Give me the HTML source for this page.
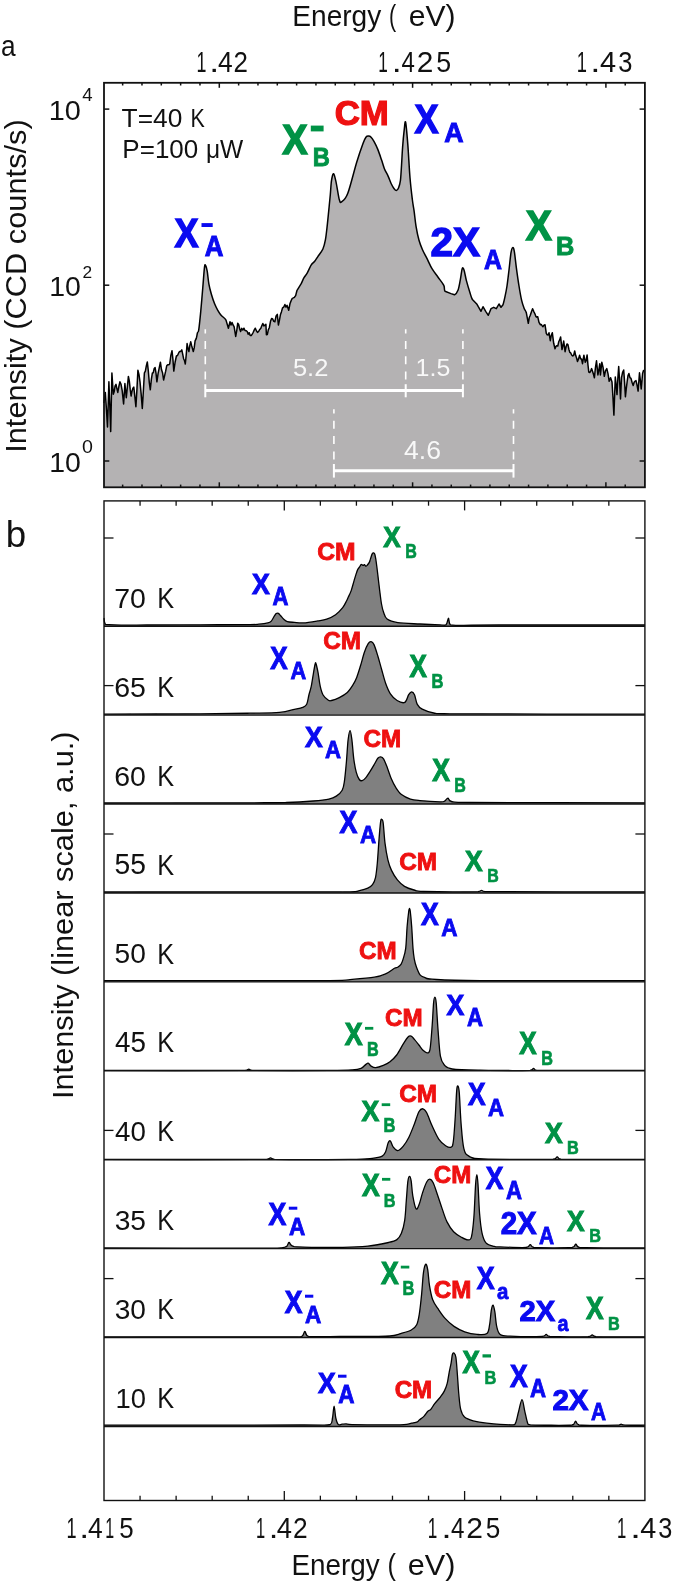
<!DOCTYPE html>
<html><head><meta charset="utf-8"><title>PL spectra</title>
<style>
html,body{margin:0;padding:0;background:#fff;}
body{width:675px;height:1582px;overflow:hidden;}
svg{display:block;}
svg{will-change:transform;}
text{font-family:"Liberation Sans",sans-serif;font-kerning:none;white-space:pre;}
</style></head><body>
<svg width="675" height="1582" viewBox="0 0 675 1582">
<rect width="675" height="1582" fill="#ffffff"/>
<path d="M103.90,403.00 L105.30,392.40 L106.40,408.92 L107.50,427.00 L108.90,381.80 L109.80,405.16 L110.70,431.60 L111.90,372.90 L113.30,394.20 L114.20,391.60 L115.10,385.79 L116.00,384.40 L116.90,388.56 L117.80,392.40 L118.85,386.51 L119.90,381.80 L121.05,384.31 L122.20,390.70 L123.60,404.00 L124.90,383.60 L126.30,397.80 L127.35,387.13 L128.40,376.40 L129.30,380.90 L130.20,389.17 L131.10,396.00 L132.00,391.14 L132.90,388.27 L133.80,387.10 L134.85,396.57 L135.90,406.70 L136.90,389.89 L137.90,370.20 L138.95,374.34 L140.00,381.80 L141.15,393.88 L142.30,408.40 L143.35,391.21 L144.40,372.90 L145.37,371.20 L146.33,365.91 L147.30,361.90 L148.30,370.75 L149.30,382.60 L150.30,389.80 L151.35,379.35 L152.40,372.90 L153.30,372.71 L154.20,368.44 L155.10,367.60 L156.00,373.13 L156.90,381.80 L158.07,373.58 L159.23,367.89 L160.40,362.20 L161.47,369.52 L162.53,372.66 L163.60,380.00 L164.63,375.63 L165.67,371.14 L166.70,365.80 L167.70,364.64 L168.70,364.81 L169.70,364.00 L170.85,355.43 L172.00,350.70 L172.90,358.96 L173.80,371.10 L175.10,362.26 L176.40,356.00 L177.48,355.55 L178.56,353.20 L179.64,351.46 L180.72,351.42 L181.80,349.80 L182.70,354.04 L183.60,358.70 L184.45,360.47 L185.30,364.00 L186.20,355.10 L187.10,343.60 L188.00,348.48 L188.90,351.60 L189.80,345.57 L190.70,341.80 L191.57,345.39 L192.43,348.44 L193.30,351.60 L194.20,347.90 L195.10,340.90 L196.30,338.34 C196.70,337.00 197.10,334.19 197.50,332.83 C197.90,331.48 198.17,333.69 198.70,330.20 C199.23,326.71 200.02,319.02 200.70,311.90 C201.38,304.78 202.17,294.97 202.80,287.50 C203.43,280.03 204.03,270.77 204.50,267.10 C204.97,263.43 205.15,264.82 205.60,265.50 C206.05,266.18 206.65,268.08 207.20,271.20 C207.75,274.32 208.22,280.40 208.90,284.20 C209.58,288.00 210.35,290.73 211.30,294.00 C212.25,297.27 213.52,301.08 214.60,303.80 C215.68,306.52 216.72,308.40 217.80,310.30 C218.88,312.20 219.73,313.57 221.10,315.20 C222.47,316.83 224.78,317.93 226.00,320.10 L228.40,328.20 L230.00,321.70 L231.03,325.04 L232.05,322.47 L233.07,325.01 L234.10,326.60 L235.70,336.40 L236.70,330.98 L237.70,323.30 L238.67,324.50 L239.63,328.72 L240.60,331.50 L241.70,328.37 L242.80,330.04 L243.90,328.20 L245.00,330.46 L246.10,330.72 L247.20,331.50 L248.20,334.18 L249.20,332.73 L250.20,335.43 L251.20,335.60 L252.22,334.17 L253.25,332.25 L254.28,329.86 L255.30,328.20 L256.40,330.80 L257.50,332.36 L258.60,331.50 L259.67,329.49 L260.73,328.42 L261.80,325.80 L262.82,323.47 L263.85,325.89 L264.88,325.25 L265.90,324.20 L266.40,334.70 L267.35,334.47 L268.30,329.90 L269.40,327.48 L270.50,321.29 L271.60,318.40 L272.70,319.00 L273.80,321.34 L274.90,321.70 L276.10,315.95 L277.30,314.40 L278.40,325.00 L279.40,320.46 L280.40,314.81 L281.40,311.90 L282.60,307.77 L283.80,307.00 L284.90,304.53 L286.00,307.11 L287.10,305.40 L288.70,310.30 L289.95,303.77 L291.20,300.50 L292.27,298.32 L293.33,297.89 L294.40,297.30 L295.65,295.63 L296.90,290.70 L300.90,284.20 C302.08,282.03 302.93,279.60 304.00,277.70 C305.07,275.80 306.07,274.98 307.30,272.80 C308.53,270.62 310.17,266.52 311.40,264.60 C312.63,262.68 313.60,262.68 314.70,261.30 C315.80,259.92 316.63,258.35 318.00,256.30 C319.37,254.25 321.67,251.73 322.90,249.00 C324.13,246.27 324.72,243.47 325.40,239.90 C326.08,236.33 326.45,232.40 327.00,227.60 C327.55,222.80 328.15,216.58 328.70,211.10 C329.25,205.62 329.83,199.77 330.30,194.70 C330.77,189.63 330.95,184.20 331.50,180.70 C332.05,177.20 332.83,173.43 333.60,173.70 C334.37,173.97 335.15,177.98 336.10,182.30 C337.05,186.62 338.38,196.35 339.30,199.60 C340.22,202.85 340.18,202.85 341.60,201.80 C343.02,200.75 345.28,199.90 347.80,193.30 C350.32,186.70 354.17,170.50 356.70,162.20 C359.23,153.90 361.47,147.67 363.00,143.50 C364.53,139.33 364.98,138.43 365.90,137.20 C366.82,135.97 367.63,136.10 368.50,136.10 C369.37,136.10 370.17,136.27 371.10,137.20 C372.03,138.13 372.98,139.67 374.10,141.70 C375.22,143.73 376.57,146.38 377.80,149.40 C379.03,152.42 380.40,156.58 381.50,159.80 C382.60,163.02 383.30,165.98 384.40,168.70 C385.50,171.42 386.98,173.63 388.10,176.10 C389.22,178.57 390.10,181.40 391.10,183.50 C392.10,185.60 393.23,187.52 394.10,188.70 C394.97,189.88 395.57,190.72 396.30,190.60 C397.03,190.48 397.82,189.67 398.50,188.00 C399.18,186.33 399.90,184.32 400.40,180.60 C400.90,176.88 401.13,171.27 401.50,165.70 C401.87,160.13 402.17,153.00 402.60,147.20 C403.03,141.40 403.60,135.07 404.10,130.90 C404.60,126.73 404.98,119.95 405.60,122.20 C406.22,124.45 407.07,135.13 407.80,144.40 C408.53,153.67 409.23,168.53 410.00,177.80 C410.77,187.07 411.70,194.33 412.40,200.00 C413.10,205.67 413.60,207.45 414.20,211.80 C414.80,216.15 415.20,221.35 416.00,226.10 C416.80,230.85 417.92,236.35 419.00,240.30 C420.08,244.25 421.12,246.65 422.50,249.80 C423.88,252.95 425.72,256.05 427.30,259.20 C428.88,262.35 430.23,265.73 432.00,268.70 C433.77,271.67 435.93,274.23 437.90,277.00 C439.87,279.77 442.62,282.93 443.80,285.30 C444.98,287.67 443.80,289.82 445.00,291.20 L451.00,293.60 L454.50,294.80 C455.68,294.20 457.12,292.57 458.10,290.00 C459.08,287.43 459.72,282.95 460.40,279.40 C461.08,275.85 461.60,270.28 462.20,268.70 C462.80,267.12 463.30,267.92 464.00,269.90 C464.70,271.88 465.42,276.85 466.40,280.60 C467.38,284.35 468.90,289.25 469.90,292.40 C470.90,295.55 471.22,297.52 472.40,299.50 L477.00,304.30 L478.30,306.70 L481.00,311.30 L483.00,306.70 L485.70,311.30 L488.30,315.30 L491.00,308.70 L493.70,307.30 L496.30,308.70 L499.00,304.00 L501.00,307.30 L503.00,304.70 C503.67,302.93 504.33,299.82 505.00,296.70 C505.67,293.58 506.33,290.45 507.00,286.00 C507.67,281.55 508.33,275.55 509.00,270.00 C509.67,264.45 510.38,256.43 511.00,252.70 C511.62,248.97 512.15,247.83 512.70,247.60 C513.25,247.37 513.70,248.02 514.30,251.30 C514.90,254.58 515.52,261.52 516.30,267.30 C517.08,273.08 518.10,280.43 519.00,286.00 C519.90,291.57 520.82,296.92 521.70,300.70 C522.58,304.48 523.53,306.70 524.30,308.70 C525.07,310.70 525.63,310.27 526.30,312.70 L528.30,323.30 L529.30,317.45 L530.30,315.30 L531.45,311.78 L532.60,308.70 L533.80,311.57 L535.00,314.00 L535.90,316.59 L536.80,317.20 L537.70,316.70 L539.00,322.30 L540.30,324.70 L541.20,324.39 L542.10,325.66 L543.00,326.70 L544.00,325.08 L545.00,324.70 L546.30,333.30 L547.20,334.79 L548.10,334.91 L549.00,332.70 L550.30,340.70 L551.30,335.16 L552.30,332.70 L553.70,343.30 L555.00,348.70 L555.93,346.38 L556.87,345.72 L557.80,346.00 L558.73,341.79 L559.67,339.87 L560.60,336.90 L562.00,349.60 L562.85,345.74 L563.70,341.10 L565.10,351.70 L566.05,346.76 L567.00,343.90 L567.93,344.55 L568.87,349.21 L569.80,352.40 L570.73,352.99 L571.67,355.03 L572.60,355.90 L573.65,355.44 L574.70,351.00 L575.63,355.34 L576.57,358.07 L577.50,361.50 L578.55,358.87 L579.60,355.20 L580.57,358.81 L581.53,358.90 L582.50,363.70 L583.90,355.20 L585.30,362.30 L586.20,360.36 L587.10,354.90 L587.95,364.73 L588.80,372.10 L589.73,372.58 L590.67,371.08 L591.60,368.60 L592.53,371.16 L593.47,374.22 L594.40,377.70 L595.45,367.51 L596.50,360.80 L597.90,374.90 L598.85,369.89 L599.80,363.70 L600.40,374.90 L601.80,362.30 L603.05,367.37 L604.30,376.30 L605.55,370.55 L606.80,368.60 L608.00,373.67 L609.20,381.30 L610.60,377.70 L612.00,382.00 L612.95,397.06 L613.90,415.10 L615.30,377.00 L616.15,385.10 L617.00,394.60 L617.85,378.58 L618.70,366.50 L619.60,380.50 L620.50,398.90 L621.50,377.70 L622.60,372.32 L623.70,370.00 L624.55,381.65 L625.40,396.80 L626.25,388.80 L627.10,382.00 L628.00,375.66 L628.90,373.50 L629.95,377.60 L631.00,378.40 L632.10,382.45 L633.20,385.50 L634.13,382.32 L635.07,381.14 L636.00,380.60 L637.05,385.18 L638.10,391.10 L639.50,372.80 L640.35,380.30 L641.20,389.00 L642.60,373.50 L643.50,370.44 L644.40,370.70 L644.90,370.70 L644.90,487.30 L104.00,487.30 Z" fill="#b4b2b3"/>
<path d="M103.90,403.00 L105.30,392.40 L106.40,408.92 L107.50,427.00 L108.90,381.80 L109.80,405.16 L110.70,431.60 L111.90,372.90 L113.30,394.20 L114.20,391.60 L115.10,385.79 L116.00,384.40 L116.90,388.56 L117.80,392.40 L118.85,386.51 L119.90,381.80 L121.05,384.31 L122.20,390.70 L123.60,404.00 L124.90,383.60 L126.30,397.80 L127.35,387.13 L128.40,376.40 L129.30,380.90 L130.20,389.17 L131.10,396.00 L132.00,391.14 L132.90,388.27 L133.80,387.10 L134.85,396.57 L135.90,406.70 L136.90,389.89 L137.90,370.20 L138.95,374.34 L140.00,381.80 L141.15,393.88 L142.30,408.40 L143.35,391.21 L144.40,372.90 L145.37,371.20 L146.33,365.91 L147.30,361.90 L148.30,370.75 L149.30,382.60 L150.30,389.80 L151.35,379.35 L152.40,372.90 L153.30,372.71 L154.20,368.44 L155.10,367.60 L156.00,373.13 L156.90,381.80 L158.07,373.58 L159.23,367.89 L160.40,362.20 L161.47,369.52 L162.53,372.66 L163.60,380.00 L164.63,375.63 L165.67,371.14 L166.70,365.80 L167.70,364.64 L168.70,364.81 L169.70,364.00 L170.85,355.43 L172.00,350.70 L172.90,358.96 L173.80,371.10 L175.10,362.26 L176.40,356.00 L177.48,355.55 L178.56,353.20 L179.64,351.46 L180.72,351.42 L181.80,349.80 L182.70,354.04 L183.60,358.70 L184.45,360.47 L185.30,364.00 L186.20,355.10 L187.10,343.60 L188.00,348.48 L188.90,351.60 L189.80,345.57 L190.70,341.80 L191.57,345.39 L192.43,348.44 L193.30,351.60 L194.20,347.90 L195.10,340.90 L196.30,338.34 C196.70,337.00 197.10,334.19 197.50,332.83 C197.90,331.48 198.17,333.69 198.70,330.20 C199.23,326.71 200.02,319.02 200.70,311.90 C201.38,304.78 202.17,294.97 202.80,287.50 C203.43,280.03 204.03,270.77 204.50,267.10 C204.97,263.43 205.15,264.82 205.60,265.50 C206.05,266.18 206.65,268.08 207.20,271.20 C207.75,274.32 208.22,280.40 208.90,284.20 C209.58,288.00 210.35,290.73 211.30,294.00 C212.25,297.27 213.52,301.08 214.60,303.80 C215.68,306.52 216.72,308.40 217.80,310.30 C218.88,312.20 219.73,313.57 221.10,315.20 C222.47,316.83 224.78,317.93 226.00,320.10 L228.40,328.20 L230.00,321.70 L231.03,325.04 L232.05,322.47 L233.07,325.01 L234.10,326.60 L235.70,336.40 L236.70,330.98 L237.70,323.30 L238.67,324.50 L239.63,328.72 L240.60,331.50 L241.70,328.37 L242.80,330.04 L243.90,328.20 L245.00,330.46 L246.10,330.72 L247.20,331.50 L248.20,334.18 L249.20,332.73 L250.20,335.43 L251.20,335.60 L252.22,334.17 L253.25,332.25 L254.28,329.86 L255.30,328.20 L256.40,330.80 L257.50,332.36 L258.60,331.50 L259.67,329.49 L260.73,328.42 L261.80,325.80 L262.82,323.47 L263.85,325.89 L264.88,325.25 L265.90,324.20 L266.40,334.70 L267.35,334.47 L268.30,329.90 L269.40,327.48 L270.50,321.29 L271.60,318.40 L272.70,319.00 L273.80,321.34 L274.90,321.70 L276.10,315.95 L277.30,314.40 L278.40,325.00 L279.40,320.46 L280.40,314.81 L281.40,311.90 L282.60,307.77 L283.80,307.00 L284.90,304.53 L286.00,307.11 L287.10,305.40 L288.70,310.30 L289.95,303.77 L291.20,300.50 L292.27,298.32 L293.33,297.89 L294.40,297.30 L295.65,295.63 L296.90,290.70 L300.90,284.20 C302.08,282.03 302.93,279.60 304.00,277.70 C305.07,275.80 306.07,274.98 307.30,272.80 C308.53,270.62 310.17,266.52 311.40,264.60 C312.63,262.68 313.60,262.68 314.70,261.30 C315.80,259.92 316.63,258.35 318.00,256.30 C319.37,254.25 321.67,251.73 322.90,249.00 C324.13,246.27 324.72,243.47 325.40,239.90 C326.08,236.33 326.45,232.40 327.00,227.60 C327.55,222.80 328.15,216.58 328.70,211.10 C329.25,205.62 329.83,199.77 330.30,194.70 C330.77,189.63 330.95,184.20 331.50,180.70 C332.05,177.20 332.83,173.43 333.60,173.70 C334.37,173.97 335.15,177.98 336.10,182.30 C337.05,186.62 338.38,196.35 339.30,199.60 C340.22,202.85 340.18,202.85 341.60,201.80 C343.02,200.75 345.28,199.90 347.80,193.30 C350.32,186.70 354.17,170.50 356.70,162.20 C359.23,153.90 361.47,147.67 363.00,143.50 C364.53,139.33 364.98,138.43 365.90,137.20 C366.82,135.97 367.63,136.10 368.50,136.10 C369.37,136.10 370.17,136.27 371.10,137.20 C372.03,138.13 372.98,139.67 374.10,141.70 C375.22,143.73 376.57,146.38 377.80,149.40 C379.03,152.42 380.40,156.58 381.50,159.80 C382.60,163.02 383.30,165.98 384.40,168.70 C385.50,171.42 386.98,173.63 388.10,176.10 C389.22,178.57 390.10,181.40 391.10,183.50 C392.10,185.60 393.23,187.52 394.10,188.70 C394.97,189.88 395.57,190.72 396.30,190.60 C397.03,190.48 397.82,189.67 398.50,188.00 C399.18,186.33 399.90,184.32 400.40,180.60 C400.90,176.88 401.13,171.27 401.50,165.70 C401.87,160.13 402.17,153.00 402.60,147.20 C403.03,141.40 403.60,135.07 404.10,130.90 C404.60,126.73 404.98,119.95 405.60,122.20 C406.22,124.45 407.07,135.13 407.80,144.40 C408.53,153.67 409.23,168.53 410.00,177.80 C410.77,187.07 411.70,194.33 412.40,200.00 C413.10,205.67 413.60,207.45 414.20,211.80 C414.80,216.15 415.20,221.35 416.00,226.10 C416.80,230.85 417.92,236.35 419.00,240.30 C420.08,244.25 421.12,246.65 422.50,249.80 C423.88,252.95 425.72,256.05 427.30,259.20 C428.88,262.35 430.23,265.73 432.00,268.70 C433.77,271.67 435.93,274.23 437.90,277.00 C439.87,279.77 442.62,282.93 443.80,285.30 C444.98,287.67 443.80,289.82 445.00,291.20 L451.00,293.60 L454.50,294.80 C455.68,294.20 457.12,292.57 458.10,290.00 C459.08,287.43 459.72,282.95 460.40,279.40 C461.08,275.85 461.60,270.28 462.20,268.70 C462.80,267.12 463.30,267.92 464.00,269.90 C464.70,271.88 465.42,276.85 466.40,280.60 C467.38,284.35 468.90,289.25 469.90,292.40 C470.90,295.55 471.22,297.52 472.40,299.50 L477.00,304.30 L478.30,306.70 L481.00,311.30 L483.00,306.70 L485.70,311.30 L488.30,315.30 L491.00,308.70 L493.70,307.30 L496.30,308.70 L499.00,304.00 L501.00,307.30 L503.00,304.70 C503.67,302.93 504.33,299.82 505.00,296.70 C505.67,293.58 506.33,290.45 507.00,286.00 C507.67,281.55 508.33,275.55 509.00,270.00 C509.67,264.45 510.38,256.43 511.00,252.70 C511.62,248.97 512.15,247.83 512.70,247.60 C513.25,247.37 513.70,248.02 514.30,251.30 C514.90,254.58 515.52,261.52 516.30,267.30 C517.08,273.08 518.10,280.43 519.00,286.00 C519.90,291.57 520.82,296.92 521.70,300.70 C522.58,304.48 523.53,306.70 524.30,308.70 C525.07,310.70 525.63,310.27 526.30,312.70 L528.30,323.30 L529.30,317.45 L530.30,315.30 L531.45,311.78 L532.60,308.70 L533.80,311.57 L535.00,314.00 L535.90,316.59 L536.80,317.20 L537.70,316.70 L539.00,322.30 L540.30,324.70 L541.20,324.39 L542.10,325.66 L543.00,326.70 L544.00,325.08 L545.00,324.70 L546.30,333.30 L547.20,334.79 L548.10,334.91 L549.00,332.70 L550.30,340.70 L551.30,335.16 L552.30,332.70 L553.70,343.30 L555.00,348.70 L555.93,346.38 L556.87,345.72 L557.80,346.00 L558.73,341.79 L559.67,339.87 L560.60,336.90 L562.00,349.60 L562.85,345.74 L563.70,341.10 L565.10,351.70 L566.05,346.76 L567.00,343.90 L567.93,344.55 L568.87,349.21 L569.80,352.40 L570.73,352.99 L571.67,355.03 L572.60,355.90 L573.65,355.44 L574.70,351.00 L575.63,355.34 L576.57,358.07 L577.50,361.50 L578.55,358.87 L579.60,355.20 L580.57,358.81 L581.53,358.90 L582.50,363.70 L583.90,355.20 L585.30,362.30 L586.20,360.36 L587.10,354.90 L587.95,364.73 L588.80,372.10 L589.73,372.58 L590.67,371.08 L591.60,368.60 L592.53,371.16 L593.47,374.22 L594.40,377.70 L595.45,367.51 L596.50,360.80 L597.90,374.90 L598.85,369.89 L599.80,363.70 L600.40,374.90 L601.80,362.30 L603.05,367.37 L604.30,376.30 L605.55,370.55 L606.80,368.60 L608.00,373.67 L609.20,381.30 L610.60,377.70 L612.00,382.00 L612.95,397.06 L613.90,415.10 L615.30,377.00 L616.15,385.10 L617.00,394.60 L617.85,378.58 L618.70,366.50 L619.60,380.50 L620.50,398.90 L621.50,377.70 L622.60,372.32 L623.70,370.00 L624.55,381.65 L625.40,396.80 L626.25,388.80 L627.10,382.00 L628.00,375.66 L628.90,373.50 L629.95,377.60 L631.00,378.40 L632.10,382.45 L633.20,385.50 L634.13,382.32 L635.07,381.14 L636.00,380.60 L637.05,385.18 L638.10,391.10 L639.50,372.80 L640.35,380.30 L641.20,389.00 L642.60,373.50 L643.50,370.44 L644.40,370.70" fill="none" stroke="#000" stroke-width="1.5" stroke-linejoin="round"/>
<line x1="205.30" y1="329.30" x2="205.30" y2="380.00" stroke="#ffffff" stroke-width="1.6" stroke-dasharray="8 7.3" stroke-dashoffset="3.7"/>
<line x1="205.30" y1="384.20" x2="205.30" y2="397.30" stroke="#ffffff" stroke-width="2.0"/>
<line x1="405.70" y1="329.30" x2="405.70" y2="380.00" stroke="#ffffff" stroke-width="1.6" stroke-dasharray="8 7.3" stroke-dashoffset="3.7"/>
<line x1="405.70" y1="384.20" x2="405.70" y2="397.30" stroke="#ffffff" stroke-width="2.0"/>
<line x1="462.90" y1="329.30" x2="462.90" y2="380.00" stroke="#ffffff" stroke-width="1.6" stroke-dasharray="8 7.3" stroke-dashoffset="3.7"/>
<line x1="462.90" y1="384.20" x2="462.90" y2="397.30" stroke="#ffffff" stroke-width="2.0"/>
<line x1="205.30" y1="390.60" x2="462.90" y2="390.60" stroke="#ffffff" stroke-width="3.0"/>
<line x1="333.90" y1="409.20" x2="333.90" y2="460.00" stroke="#ffffff" stroke-width="1.6" stroke-dasharray="8 7.3" stroke-dashoffset="3.7"/>
<line x1="333.90" y1="464.00" x2="333.90" y2="477.60" stroke="#ffffff" stroke-width="2.0"/>
<line x1="513.50" y1="409.20" x2="513.50" y2="460.00" stroke="#ffffff" stroke-width="1.6" stroke-dasharray="8 7.3" stroke-dashoffset="3.7"/>
<line x1="513.50" y1="464.00" x2="513.50" y2="477.60" stroke="#ffffff" stroke-width="2.0"/>
<line x1="333.90" y1="470.70" x2="513.50" y2="470.70" stroke="#ffffff" stroke-width="3.0"/>
<text transform="translate(292.88,375.96) scale(1.0453,1)" font-size="24.43" fill="#f8f8f8" font-weight="normal">5.2</text>
<text transform="translate(415.60,376.06) scale(1.0083,1)" font-size="24.79" fill="#f8f8f8" font-weight="normal">1.5</text>
<text transform="translate(403.99,458.76) scale(1.0641,1)" font-size="25.00" fill="#f8f8f8" font-weight="normal">4.6</text>
<rect x="104.0" y="82.8" width="540.90" height="404.50" fill="none" stroke="#111" stroke-width="1.8"/>
<line x1="122.65" y1="82.80" x2="122.65" y2="85.50" stroke="#111" stroke-width="1.5"/>
<line x1="122.65" y1="487.30" x2="122.65" y2="484.60" stroke="#111" stroke-width="1.5"/>
<line x1="141.98" y1="82.80" x2="141.98" y2="85.50" stroke="#111" stroke-width="1.5"/>
<line x1="141.98" y1="487.30" x2="141.98" y2="484.60" stroke="#111" stroke-width="1.5"/>
<line x1="161.31" y1="82.80" x2="161.31" y2="85.50" stroke="#111" stroke-width="1.5"/>
<line x1="161.31" y1="487.30" x2="161.31" y2="484.60" stroke="#111" stroke-width="1.5"/>
<line x1="180.64" y1="82.80" x2="180.64" y2="85.50" stroke="#111" stroke-width="1.5"/>
<line x1="180.64" y1="487.30" x2="180.64" y2="484.60" stroke="#111" stroke-width="1.5"/>
<line x1="199.97" y1="82.80" x2="199.97" y2="85.50" stroke="#111" stroke-width="1.5"/>
<line x1="199.97" y1="487.30" x2="199.97" y2="484.60" stroke="#111" stroke-width="1.5"/>
<line x1="219.30" y1="82.80" x2="219.30" y2="87.80" stroke="#111" stroke-width="1.5"/>
<line x1="219.30" y1="487.30" x2="219.30" y2="482.30" stroke="#111" stroke-width="1.5"/>
<line x1="238.63" y1="82.80" x2="238.63" y2="85.50" stroke="#111" stroke-width="1.5"/>
<line x1="238.63" y1="487.30" x2="238.63" y2="484.60" stroke="#111" stroke-width="1.5"/>
<line x1="257.96" y1="82.80" x2="257.96" y2="85.50" stroke="#111" stroke-width="1.5"/>
<line x1="257.96" y1="487.30" x2="257.96" y2="484.60" stroke="#111" stroke-width="1.5"/>
<line x1="277.29" y1="82.80" x2="277.29" y2="85.50" stroke="#111" stroke-width="1.5"/>
<line x1="277.29" y1="487.30" x2="277.29" y2="484.60" stroke="#111" stroke-width="1.5"/>
<line x1="296.62" y1="82.80" x2="296.62" y2="85.50" stroke="#111" stroke-width="1.5"/>
<line x1="296.62" y1="487.30" x2="296.62" y2="484.60" stroke="#111" stroke-width="1.5"/>
<line x1="315.95" y1="82.80" x2="315.95" y2="85.50" stroke="#111" stroke-width="1.5"/>
<line x1="315.95" y1="487.30" x2="315.95" y2="484.60" stroke="#111" stroke-width="1.5"/>
<line x1="335.28" y1="82.80" x2="335.28" y2="85.50" stroke="#111" stroke-width="1.5"/>
<line x1="335.28" y1="487.30" x2="335.28" y2="484.60" stroke="#111" stroke-width="1.5"/>
<line x1="354.61" y1="82.80" x2="354.61" y2="85.50" stroke="#111" stroke-width="1.5"/>
<line x1="354.61" y1="487.30" x2="354.61" y2="484.60" stroke="#111" stroke-width="1.5"/>
<line x1="373.94" y1="82.80" x2="373.94" y2="85.50" stroke="#111" stroke-width="1.5"/>
<line x1="373.94" y1="487.30" x2="373.94" y2="484.60" stroke="#111" stroke-width="1.5"/>
<line x1="393.27" y1="82.80" x2="393.27" y2="85.50" stroke="#111" stroke-width="1.5"/>
<line x1="393.27" y1="487.30" x2="393.27" y2="484.60" stroke="#111" stroke-width="1.5"/>
<line x1="412.60" y1="82.80" x2="412.60" y2="87.80" stroke="#111" stroke-width="1.5"/>
<line x1="412.60" y1="487.30" x2="412.60" y2="482.30" stroke="#111" stroke-width="1.5"/>
<line x1="431.93" y1="82.80" x2="431.93" y2="85.50" stroke="#111" stroke-width="1.5"/>
<line x1="431.93" y1="487.30" x2="431.93" y2="484.60" stroke="#111" stroke-width="1.5"/>
<line x1="451.26" y1="82.80" x2="451.26" y2="85.50" stroke="#111" stroke-width="1.5"/>
<line x1="451.26" y1="487.30" x2="451.26" y2="484.60" stroke="#111" stroke-width="1.5"/>
<line x1="470.59" y1="82.80" x2="470.59" y2="85.50" stroke="#111" stroke-width="1.5"/>
<line x1="470.59" y1="487.30" x2="470.59" y2="484.60" stroke="#111" stroke-width="1.5"/>
<line x1="489.92" y1="82.80" x2="489.92" y2="85.50" stroke="#111" stroke-width="1.5"/>
<line x1="489.92" y1="487.30" x2="489.92" y2="484.60" stroke="#111" stroke-width="1.5"/>
<line x1="509.25" y1="82.80" x2="509.25" y2="85.50" stroke="#111" stroke-width="1.5"/>
<line x1="509.25" y1="487.30" x2="509.25" y2="484.60" stroke="#111" stroke-width="1.5"/>
<line x1="528.58" y1="82.80" x2="528.58" y2="85.50" stroke="#111" stroke-width="1.5"/>
<line x1="528.58" y1="487.30" x2="528.58" y2="484.60" stroke="#111" stroke-width="1.5"/>
<line x1="547.91" y1="82.80" x2="547.91" y2="85.50" stroke="#111" stroke-width="1.5"/>
<line x1="547.91" y1="487.30" x2="547.91" y2="484.60" stroke="#111" stroke-width="1.5"/>
<line x1="567.24" y1="82.80" x2="567.24" y2="85.50" stroke="#111" stroke-width="1.5"/>
<line x1="567.24" y1="487.30" x2="567.24" y2="484.60" stroke="#111" stroke-width="1.5"/>
<line x1="586.57" y1="82.80" x2="586.57" y2="85.50" stroke="#111" stroke-width="1.5"/>
<line x1="586.57" y1="487.30" x2="586.57" y2="484.60" stroke="#111" stroke-width="1.5"/>
<line x1="605.90" y1="82.80" x2="605.90" y2="87.80" stroke="#111" stroke-width="1.5"/>
<line x1="605.90" y1="487.30" x2="605.90" y2="482.30" stroke="#111" stroke-width="1.5"/>
<line x1="625.23" y1="82.80" x2="625.23" y2="85.50" stroke="#111" stroke-width="1.5"/>
<line x1="625.23" y1="487.30" x2="625.23" y2="484.60" stroke="#111" stroke-width="1.5"/>
<line x1="104.00" y1="109.10" x2="109.30" y2="109.10" stroke="#111" stroke-width="1.5"/>
<line x1="644.90" y1="109.10" x2="639.60" y2="109.10" stroke="#111" stroke-width="1.5"/>
<line x1="104.00" y1="285.20" x2="109.30" y2="285.20" stroke="#111" stroke-width="1.5"/>
<line x1="644.90" y1="285.20" x2="639.60" y2="285.20" stroke="#111" stroke-width="1.5"/>
<line x1="104.00" y1="461.00" x2="109.30" y2="461.00" stroke="#111" stroke-width="1.5"/>
<line x1="644.90" y1="461.00" x2="639.60" y2="461.00" stroke="#111" stroke-width="1.5"/>
<text transform="translate(292.29,26.30) scale(0.9526,1)" font-size="29.51" fill="#111111" font-weight="normal">Energy</text>
<text transform="translate(388.97,26.30) scale(0.7286,1)" font-size="29.51" fill="#111111" font-weight="normal">(</text>
<text transform="translate(408.72,26.30) scale(1.0202,1)" font-size="29.51" fill="#111111" font-weight="normal">eV)</text>
<text transform="translate(0.98,56.01) scale(0.8726,1)" font-size="30.12" fill="#111111" font-weight="normal">a</text>
<text transform="translate(196.54,71.80) scale(0.6113,1)" font-size="29.22" fill="#111111" font-weight="normal">1</text>
<text transform="translate(209.24,71.80) scale(1.2222,1)" font-size="29.22" fill="#111111" font-weight="normal">.</text>
<text transform="translate(217.89,71.80) scale(0.9034,1)" font-size="29.22" fill="#111111" font-weight="normal">4</text>
<text transform="translate(233.50,71.80) scale(0.8866,1)" font-size="29.22" fill="#111111" font-weight="normal">2</text>
<text transform="translate(378.19,71.80) scale(0.5875,1)" font-size="29.22" fill="#111111" font-weight="normal">1</text>
<text transform="translate(391.84,71.80) scale(1.2222,1)" font-size="29.22" fill="#111111" font-weight="normal">.</text>
<text transform="translate(401.45,71.80) scale(0.8219,1)" font-size="29.22" fill="#111111" font-weight="normal">4</text>
<text transform="translate(416.80,71.80) scale(1.0218,1)" font-size="29.22" fill="#111111" font-weight="normal">2</text>
<text transform="translate(436.13,71.80) scale(0.9169,1)" font-size="29.22" fill="#111111" font-weight="normal">5</text>
<text transform="translate(576.80,71.70) scale(0.6335,1)" font-size="28.92" fill="#111111" font-weight="normal">1</text>
<text transform="translate(590.34,71.70) scale(1.2708,1)" font-size="28.92" fill="#111111" font-weight="normal">.</text>
<text transform="translate(600.04,71.70) scale(1.0017,1)" font-size="28.92" fill="#111111" font-weight="normal">4</text>
<text transform="translate(618.33,71.70) scale(0.8823,1)" font-size="28.92" fill="#111111" font-weight="normal">3</text>
<text transform="translate(48.70,119.93) scale(1.0434,1)" font-size="27.68" fill="#111111" font-weight="normal">10</text>
<text transform="translate(82.27,101.30) scale(1.0350,1)" font-size="18.02" fill="#111111" font-weight="normal">4</text>
<text transform="translate(49.13,295.93) scale(1.0342,1)" font-size="27.54" fill="#111111" font-weight="normal">10</text>
<text transform="translate(82.43,277.50) scale(1.0007,1)" font-size="17.33" fill="#111111" font-weight="normal">2</text>
<text transform="translate(49.13,471.73) scale(1.0342,1)" font-size="27.54" fill="#111111" font-weight="normal">10</text>
<text transform="translate(81.93,453.32) scale(1.0628,1)" font-size="18.50" fill="#111111" font-weight="normal">0</text>
<text transform="translate(121.61,126.80) scale(1.0305,1)" font-size="25.58" fill="#111111" font-weight="normal">T=40</text>
<text transform="translate(190.44,126.80) scale(0.8380,1)" font-size="25.58" fill="#111111" font-weight="normal">K</text>
<text transform="translate(122.37,158.30) scale(1.0346,1)" font-size="25.15" fill="#111111" font-weight="normal">P=100</text>
<text transform="translate(205.94,158.30) scale(0.9769,1)" font-size="25.15" fill="#111111" font-weight="normal">μW</text>
<text transform="translate(26.30,452.84) rotate(-90) scale(1.0384,1)" font-size="29.65" fill="#111111">Intensity (CCD counts/s)</text>
<text transform="translate(174.61,246.67) scale(0.8824,1)" font-size="40.90" fill="#0a0af0" font-weight="bold" stroke="#0a0af0" stroke-width="1.46" stroke-linejoin="miter">X</text>
<rect x="201.50" y="223.10" width="11.20" height="3.90" fill="#0a0af0"/>
<text transform="translate(204.87,255.79) scale(0.9010,1)" font-size="28.74" fill="#0a0af0" font-weight="bold" stroke="#0a0af0" stroke-width="1.03" stroke-linejoin="miter">A</text>
<text transform="translate(282.33,153.74) scale(0.8930,1)" font-size="42.56" fill="#009245" font-weight="bold" stroke="#009245" stroke-width="1.52" stroke-linejoin="miter">X</text>
<rect x="310.80" y="125.60" width="12.80" height="5.80" fill="#009245"/>
<text transform="translate(312.79,165.62) scale(0.8883,1)" font-size="26.67" fill="#009245" font-weight="bold" stroke="#009245" stroke-width="0.95" stroke-linejoin="miter">B</text>
<text transform="translate(334.70,124.63) scale(0.9952,1)" font-size="34.96" fill="#ee1111" font-weight="bold" stroke="#ee1111" stroke-width="1.25" stroke-linejoin="miter">CM</text>
<text transform="translate(414.61,132.77) scale(0.8888,1)" font-size="40.62" fill="#0a0af0" font-weight="bold" stroke="#0a0af0" stroke-width="1.45" stroke-linejoin="miter">X</text>
<text transform="translate(444.24,141.89) scale(0.9465,1)" font-size="28.32" fill="#0a0af0" font-weight="bold" stroke="#0a0af0" stroke-width="1.01" stroke-linejoin="miter">A</text>
<text transform="translate(430.61,255.88) scale(1.0109,1)" font-size="40.06" fill="#0a0af0" font-weight="bold" stroke="#0a0af0" stroke-width="1.43" stroke-linejoin="miter">2X</text>
<text transform="translate(484.08,268.70) scale(0.8967,1)" font-size="27.77" fill="#0a0af0" font-weight="bold" stroke="#0a0af0" stroke-width="0.99" stroke-linejoin="miter">A</text>
<text transform="translate(525.71,240.25) scale(0.9279,1)" font-size="42.14" fill="#009245" font-weight="bold" stroke="#009245" stroke-width="1.51" stroke-linejoin="miter">X</text>
<text transform="translate(556.07,254.93) scale(0.9711,1)" font-size="26.11" fill="#009245" font-weight="bold" stroke="#009245" stroke-width="0.93" stroke-linejoin="miter">B</text>
<path d="M104.00,618.00 C104.25,619.05 104.00,623.13 105.50,624.30 C113.17,625.47 134.25,624.92 150.00,625.00 C165.75,625.08 183.33,624.87 200.00,624.80 C216.67,624.73 240.18,624.70 250.00,624.60 C258.90,624.50 255.93,624.48 258.90,624.20 C261.87,623.92 265.73,623.42 267.80,622.90 C269.87,622.38 270.27,622.13 271.30,621.10 C272.33,620.07 273.18,617.95 274.00,616.70 C274.82,615.45 275.47,614.17 276.20,613.60 C276.93,613.03 277.65,612.93 278.40,613.30 C279.15,613.67 279.80,614.80 280.70,615.80 C281.60,616.80 282.70,618.33 283.80,619.30 C284.90,620.27 285.53,621.08 287.30,621.60 C289.07,622.12 291.73,622.18 294.40,622.40 C297.07,622.62 299.40,623.15 303.30,622.90 C307.20,622.65 313.90,621.53 317.80,620.90 C321.70,620.27 323.73,620.13 326.70,619.10 C329.67,618.07 332.93,616.62 335.60,614.70 C338.27,612.78 340.88,609.88 342.70,607.60 C344.52,605.32 345.60,602.68 346.50,601.00 C347.40,599.32 347.33,599.18 348.10,597.50 C348.87,595.82 350.10,593.72 351.10,590.90 C352.10,588.08 353.30,583.32 354.10,580.60 C354.90,577.88 355.28,576.47 355.90,574.60 C356.52,572.73 357.18,570.68 357.80,569.40 C358.42,568.12 359.05,567.73 359.60,566.90 C360.15,566.07 360.67,564.73 361.10,564.40 C361.53,564.07 361.83,564.73 362.20,564.90 C362.57,565.07 362.93,565.45 363.30,565.40 C363.67,565.35 363.97,564.45 364.40,564.60 C364.83,564.75 365.40,566.23 365.90,566.30 C366.40,566.37 366.83,565.65 367.40,565.00 C367.97,564.35 368.80,563.38 369.30,562.40 C369.80,561.42 369.92,560.52 370.40,559.10 C370.88,557.68 371.68,554.95 372.20,553.90 C372.72,552.85 373.07,552.73 373.50,552.80 C373.93,552.87 374.40,553.13 374.80,554.30 C375.20,555.47 375.53,557.52 375.90,559.80 C376.27,562.08 376.57,564.53 377.00,568.00 C377.43,571.47 378.00,576.42 378.50,580.60 C379.00,584.78 379.50,589.20 380.00,593.10 C380.50,597.00 380.92,600.85 381.50,604.00 C382.08,607.15 382.57,609.48 383.50,612.00 C384.43,614.52 384.72,617.32 387.10,619.10 C389.48,620.88 392.32,621.88 397.80,622.70 C403.28,623.52 412.97,623.65 420.00,624.00 C427.03,624.35 435.67,624.67 440.00,624.80 C444.33,624.93 444.58,625.90 446.00,624.80 C447.42,623.70 447.75,618.20 448.50,618.20 C449.25,618.20 448.50,623.67 450.50,624.80 C459.08,625.93 467.58,624.97 500.00,625.00 C532.42,625.03 620.83,625.00 645.00,625.00 L645.00,626.20 L104.00,626.20 Z" fill="#808080"/>
<path d="M104.00,618.00 C104.25,619.05 104.00,623.13 105.50,624.30 C113.17,625.47 134.25,624.92 150.00,625.00 C165.75,625.08 183.33,624.87 200.00,624.80 C216.67,624.73 240.18,624.70 250.00,624.60 C258.90,624.50 255.93,624.48 258.90,624.20 C261.87,623.92 265.73,623.42 267.80,622.90 C269.87,622.38 270.27,622.13 271.30,621.10 C272.33,620.07 273.18,617.95 274.00,616.70 C274.82,615.45 275.47,614.17 276.20,613.60 C276.93,613.03 277.65,612.93 278.40,613.30 C279.15,613.67 279.80,614.80 280.70,615.80 C281.60,616.80 282.70,618.33 283.80,619.30 C284.90,620.27 285.53,621.08 287.30,621.60 C289.07,622.12 291.73,622.18 294.40,622.40 C297.07,622.62 299.40,623.15 303.30,622.90 C307.20,622.65 313.90,621.53 317.80,620.90 C321.70,620.27 323.73,620.13 326.70,619.10 C329.67,618.07 332.93,616.62 335.60,614.70 C338.27,612.78 340.88,609.88 342.70,607.60 C344.52,605.32 345.60,602.68 346.50,601.00 C347.40,599.32 347.33,599.18 348.10,597.50 C348.87,595.82 350.10,593.72 351.10,590.90 C352.10,588.08 353.30,583.32 354.10,580.60 C354.90,577.88 355.28,576.47 355.90,574.60 C356.52,572.73 357.18,570.68 357.80,569.40 C358.42,568.12 359.05,567.73 359.60,566.90 C360.15,566.07 360.67,564.73 361.10,564.40 C361.53,564.07 361.83,564.73 362.20,564.90 C362.57,565.07 362.93,565.45 363.30,565.40 C363.67,565.35 363.97,564.45 364.40,564.60 C364.83,564.75 365.40,566.23 365.90,566.30 C366.40,566.37 366.83,565.65 367.40,565.00 C367.97,564.35 368.80,563.38 369.30,562.40 C369.80,561.42 369.92,560.52 370.40,559.10 C370.88,557.68 371.68,554.95 372.20,553.90 C372.72,552.85 373.07,552.73 373.50,552.80 C373.93,552.87 374.40,553.13 374.80,554.30 C375.20,555.47 375.53,557.52 375.90,559.80 C376.27,562.08 376.57,564.53 377.00,568.00 C377.43,571.47 378.00,576.42 378.50,580.60 C379.00,584.78 379.50,589.20 380.00,593.10 C380.50,597.00 380.92,600.85 381.50,604.00 C382.08,607.15 382.57,609.48 383.50,612.00 C384.43,614.52 384.72,617.32 387.10,619.10 C389.48,620.88 392.32,621.88 397.80,622.70 C403.28,623.52 412.97,623.65 420.00,624.00 C427.03,624.35 435.67,624.67 440.00,624.80 C444.33,624.93 444.58,625.90 446.00,624.80 C447.42,623.70 447.75,618.20 448.50,618.20 C449.25,618.20 448.50,623.67 450.50,624.80 C459.08,625.93 467.58,624.97 500.00,625.00 C532.42,625.03 620.83,625.00 645.00,625.00" fill="none" stroke="#000" stroke-width="1.3" stroke-linejoin="round"/>
<line x1="104.00" y1="626.20" x2="644.90" y2="626.20" stroke="#111111" stroke-width="1.4"/>
<path d="M104.00,714.20 C120.00,714.13 175.67,713.97 200.00,713.80 C224.33,713.63 236.73,713.43 250.00,713.20 C263.27,712.97 272.20,713.03 279.60,712.40 C287.00,711.77 290.55,710.25 294.40,709.40 C298.25,708.55 300.65,708.17 302.70,707.30 C304.75,706.43 305.67,706.25 306.70,704.20 C307.73,702.15 308.13,698.02 308.90,695.00 C309.67,691.98 310.53,689.80 311.30,686.10 C312.07,682.40 312.90,676.32 313.50,672.80 C314.10,669.28 314.55,666.70 314.90,665.00 C315.25,663.30 315.35,662.60 315.60,662.60 C315.85,662.60 315.98,663.30 316.40,665.00 C316.82,666.70 317.47,669.28 318.10,672.80 C318.73,676.32 319.37,682.40 320.20,686.10 C321.03,689.80 321.73,692.63 323.10,695.00 C324.47,697.37 326.98,699.38 328.40,700.30 C329.82,701.22 329.78,700.95 331.60,700.50 C333.42,700.05 336.73,698.88 339.30,697.60 C341.87,696.32 344.75,694.88 347.00,692.80 C349.25,690.72 351.18,687.67 352.80,685.10 C354.42,682.53 355.42,680.62 356.70,677.40 C357.98,674.18 359.22,669.98 360.50,665.80 C361.78,661.62 363.12,655.98 364.40,652.30 C365.68,648.62 367.08,645.47 368.20,643.70 C369.32,641.93 370.13,641.55 371.10,641.70 C372.07,641.85 372.87,642.18 374.00,644.60 C375.13,647.02 376.62,652.02 377.90,656.20 C379.18,660.38 380.42,665.20 381.70,669.70 C382.98,674.20 384.15,679.18 385.60,683.20 C387.05,687.22 388.48,690.92 390.40,693.80 C392.32,696.68 394.70,699.07 397.10,700.50 C399.50,701.93 402.87,703.37 404.80,702.40 C406.73,701.43 407.57,696.47 408.70,694.70 C409.83,692.93 410.63,691.80 411.60,691.80 C412.57,691.80 413.55,692.60 414.50,694.70 C415.45,696.80 416.02,701.98 417.30,704.40 C418.58,706.82 419.47,707.77 422.20,709.20 C424.93,710.63 429.07,712.23 433.70,713.00 C438.33,713.77 433.70,713.60 450.00,713.80 C485.22,714.00 612.50,714.13 645.00,714.20 L645.00,715.12 L104.00,715.12 Z" fill="#808080"/>
<path d="M104.00,714.20 C120.00,714.13 175.67,713.97 200.00,713.80 C224.33,713.63 236.73,713.43 250.00,713.20 C263.27,712.97 272.20,713.03 279.60,712.40 C287.00,711.77 290.55,710.25 294.40,709.40 C298.25,708.55 300.65,708.17 302.70,707.30 C304.75,706.43 305.67,706.25 306.70,704.20 C307.73,702.15 308.13,698.02 308.90,695.00 C309.67,691.98 310.53,689.80 311.30,686.10 C312.07,682.40 312.90,676.32 313.50,672.80 C314.10,669.28 314.55,666.70 314.90,665.00 C315.25,663.30 315.35,662.60 315.60,662.60 C315.85,662.60 315.98,663.30 316.40,665.00 C316.82,666.70 317.47,669.28 318.10,672.80 C318.73,676.32 319.37,682.40 320.20,686.10 C321.03,689.80 321.73,692.63 323.10,695.00 C324.47,697.37 326.98,699.38 328.40,700.30 C329.82,701.22 329.78,700.95 331.60,700.50 C333.42,700.05 336.73,698.88 339.30,697.60 C341.87,696.32 344.75,694.88 347.00,692.80 C349.25,690.72 351.18,687.67 352.80,685.10 C354.42,682.53 355.42,680.62 356.70,677.40 C357.98,674.18 359.22,669.98 360.50,665.80 C361.78,661.62 363.12,655.98 364.40,652.30 C365.68,648.62 367.08,645.47 368.20,643.70 C369.32,641.93 370.13,641.55 371.10,641.70 C372.07,641.85 372.87,642.18 374.00,644.60 C375.13,647.02 376.62,652.02 377.90,656.20 C379.18,660.38 380.42,665.20 381.70,669.70 C382.98,674.20 384.15,679.18 385.60,683.20 C387.05,687.22 388.48,690.92 390.40,693.80 C392.32,696.68 394.70,699.07 397.10,700.50 C399.50,701.93 402.87,703.37 404.80,702.40 C406.73,701.43 407.57,696.47 408.70,694.70 C409.83,692.93 410.63,691.80 411.60,691.80 C412.57,691.80 413.55,692.60 414.50,694.70 C415.45,696.80 416.02,701.98 417.30,704.40 C418.58,706.82 419.47,707.77 422.20,709.20 C424.93,710.63 429.07,712.23 433.70,713.00 C438.33,713.77 433.70,713.60 450.00,713.80 C485.22,714.00 612.50,714.13 645.00,714.20" fill="none" stroke="#000" stroke-width="1.3" stroke-linejoin="round"/>
<line x1="104.00" y1="715.12" x2="644.90" y2="715.12" stroke="#111111" stroke-width="1.4"/>
<path d="M104.00,803.00 C128.33,802.97 219.55,802.88 250.00,802.80 C280.45,802.72 276.15,802.80 286.70,802.50 C297.25,802.20 306.27,801.57 313.30,801.00 C320.33,800.43 325.07,799.92 328.90,799.10 C332.73,798.28 334.08,797.58 336.30,796.10 C338.52,794.62 340.85,792.67 342.20,790.20 C343.55,787.73 343.70,786.00 344.40,781.30 C345.10,776.60 345.78,768.92 346.40,762.00 C347.02,755.08 347.48,745.03 348.10,739.80 C348.72,734.57 349.47,730.60 350.10,730.60 C350.73,730.60 351.28,735.05 351.90,739.80 C352.52,744.55 353.07,753.67 353.80,759.10 C354.53,764.53 355.38,769.00 356.30,772.40 C357.22,775.80 358.32,778.13 359.30,779.50 C360.28,780.87 361.10,780.92 362.20,780.60 C363.30,780.28 364.53,779.22 365.90,777.60 C367.27,775.98 368.92,773.25 370.40,770.90 C371.88,768.55 373.57,765.60 374.80,763.50 C376.03,761.40 376.82,759.40 377.80,758.30 C378.78,757.20 379.72,756.77 380.70,756.90 C381.68,757.03 382.58,757.25 383.70,759.10 C384.82,760.95 386.17,764.80 387.40,768.00 C388.63,771.20 389.73,775.10 391.10,778.30 C392.47,781.50 393.87,784.48 395.60,787.20 C397.33,789.92 399.03,792.62 401.50,794.60 C403.97,796.58 407.32,798.10 410.40,799.10 C413.48,800.10 415.07,800.15 420.00,800.60 C424.93,801.05 435.92,801.70 440.00,801.80 C444.08,801.90 443.18,801.80 444.50,801.20 C445.82,800.60 446.73,798.15 447.90,798.20 C449.07,798.25 447.90,800.78 451.50,801.50 C455.18,802.22 451.50,802.28 470.00,802.50 C502.25,802.72 615.83,802.75 645.00,802.80 L645.00,804.04 L104.00,804.04 Z" fill="#808080"/>
<path d="M104.00,803.00 C128.33,802.97 219.55,802.88 250.00,802.80 C280.45,802.72 276.15,802.80 286.70,802.50 C297.25,802.20 306.27,801.57 313.30,801.00 C320.33,800.43 325.07,799.92 328.90,799.10 C332.73,798.28 334.08,797.58 336.30,796.10 C338.52,794.62 340.85,792.67 342.20,790.20 C343.55,787.73 343.70,786.00 344.40,781.30 C345.10,776.60 345.78,768.92 346.40,762.00 C347.02,755.08 347.48,745.03 348.10,739.80 C348.72,734.57 349.47,730.60 350.10,730.60 C350.73,730.60 351.28,735.05 351.90,739.80 C352.52,744.55 353.07,753.67 353.80,759.10 C354.53,764.53 355.38,769.00 356.30,772.40 C357.22,775.80 358.32,778.13 359.30,779.50 C360.28,780.87 361.10,780.92 362.20,780.60 C363.30,780.28 364.53,779.22 365.90,777.60 C367.27,775.98 368.92,773.25 370.40,770.90 C371.88,768.55 373.57,765.60 374.80,763.50 C376.03,761.40 376.82,759.40 377.80,758.30 C378.78,757.20 379.72,756.77 380.70,756.90 C381.68,757.03 382.58,757.25 383.70,759.10 C384.82,760.95 386.17,764.80 387.40,768.00 C388.63,771.20 389.73,775.10 391.10,778.30 C392.47,781.50 393.87,784.48 395.60,787.20 C397.33,789.92 399.03,792.62 401.50,794.60 C403.97,796.58 407.32,798.10 410.40,799.10 C413.48,800.10 415.07,800.15 420.00,800.60 C424.93,801.05 435.92,801.70 440.00,801.80 C444.08,801.90 443.18,801.80 444.50,801.20 C445.82,800.60 446.73,798.15 447.90,798.20 C449.07,798.25 447.90,800.78 451.50,801.50 C455.18,802.22 451.50,802.28 470.00,802.50 C502.25,802.72 615.83,802.75 645.00,802.80" fill="none" stroke="#000" stroke-width="1.3" stroke-linejoin="round"/>
<line x1="104.00" y1="804.04" x2="644.90" y2="804.04" stroke="#111111" stroke-width="1.4"/>
<path d="M104.00,892.00 C136.67,891.97 259.00,891.83 300.00,891.80 C341.00,891.77 340.08,892.00 350.00,891.80 C359.50,891.60 356.53,891.20 359.50,890.60 C362.47,890.00 365.63,889.18 367.80,888.20 C369.97,887.22 371.22,886.47 372.50,884.70 C373.78,882.93 374.70,881.17 375.50,877.60 C376.30,874.03 376.72,869.63 377.30,863.30 C377.88,856.97 378.45,846.52 379.00,839.60 C379.55,832.68 380.13,825.15 380.60,821.80 C381.07,818.45 381.37,819.30 381.80,819.50 C382.23,819.70 382.67,819.05 383.20,823.00 C383.73,826.95 384.22,837.07 385.00,843.20 C385.78,849.33 386.82,855.27 387.90,859.80 C388.98,864.33 389.92,867.05 391.50,870.40 C393.08,873.75 395.23,877.23 397.40,879.90 C399.57,882.57 401.73,884.72 404.50,886.40 C407.27,888.08 410.83,889.15 414.00,890.00 C417.17,890.85 414.00,891.23 423.50,891.50 C434.17,891.77 468.33,891.80 478.00,891.60 C481.50,891.40 480.33,890.30 481.50,890.30 C482.67,890.30 481.50,891.35 485.00,891.60 C512.25,891.85 618.33,891.77 645.00,891.80 L645.00,892.96 L104.00,892.96 Z" fill="#808080"/>
<path d="M104.00,892.00 C136.67,891.97 259.00,891.83 300.00,891.80 C341.00,891.77 340.08,892.00 350.00,891.80 C359.50,891.60 356.53,891.20 359.50,890.60 C362.47,890.00 365.63,889.18 367.80,888.20 C369.97,887.22 371.22,886.47 372.50,884.70 C373.78,882.93 374.70,881.17 375.50,877.60 C376.30,874.03 376.72,869.63 377.30,863.30 C377.88,856.97 378.45,846.52 379.00,839.60 C379.55,832.68 380.13,825.15 380.60,821.80 C381.07,818.45 381.37,819.30 381.80,819.50 C382.23,819.70 382.67,819.05 383.20,823.00 C383.73,826.95 384.22,837.07 385.00,843.20 C385.78,849.33 386.82,855.27 387.90,859.80 C388.98,864.33 389.92,867.05 391.50,870.40 C393.08,873.75 395.23,877.23 397.40,879.90 C399.57,882.57 401.73,884.72 404.50,886.40 C407.27,888.08 410.83,889.15 414.00,890.00 C417.17,890.85 414.00,891.23 423.50,891.50 C434.17,891.77 468.33,891.80 478.00,891.60 C481.50,891.40 480.33,890.30 481.50,890.30 C482.67,890.30 481.50,891.35 485.00,891.60 C512.25,891.85 618.33,891.77 645.00,891.80" fill="none" stroke="#000" stroke-width="1.3" stroke-linejoin="round"/>
<line x1="104.00" y1="892.96" x2="644.90" y2="892.96" stroke="#111111" stroke-width="1.4"/>
<path d="M104.00,980.60 C141.67,980.60 288.63,980.80 330.00,980.60 C352.20,980.40 344.80,979.97 352.20,979.40 C359.60,978.83 368.83,978.12 374.40,977.20 C379.97,976.28 382.27,975.38 385.60,973.90 C388.93,972.42 392.38,969.42 394.40,968.30 C396.42,967.18 396.60,967.87 397.70,967.20 C398.80,966.53 400.10,965.65 401.00,964.30 C401.90,962.95 402.32,961.75 403.10,959.10 C403.88,956.45 405.03,953.77 405.70,948.40 C406.37,943.03 406.60,933.05 407.10,926.90 C407.60,920.75 408.30,914.60 408.70,911.50 C409.10,908.40 409.23,908.30 409.50,908.30 C409.77,908.30 409.93,908.40 410.30,911.50 C410.67,914.60 411.25,920.75 411.70,926.90 C412.15,933.05 412.57,943.03 413.00,948.40 C413.43,953.77 413.72,955.97 414.30,959.10 C414.88,962.23 415.50,964.52 416.50,967.20 C417.50,969.88 418.88,973.47 420.30,975.20 C421.72,976.93 423.05,976.93 425.00,977.60 C426.95,978.27 425.00,978.70 432.00,979.20 C441.17,979.70 444.50,980.37 480.00,980.60 C515.50,980.83 617.50,980.60 645.00,980.60 L645.00,981.88 L104.00,981.88 Z" fill="#808080"/>
<path d="M104.00,980.60 C141.67,980.60 288.63,980.80 330.00,980.60 C352.20,980.40 344.80,979.97 352.20,979.40 C359.60,978.83 368.83,978.12 374.40,977.20 C379.97,976.28 382.27,975.38 385.60,973.90 C388.93,972.42 392.38,969.42 394.40,968.30 C396.42,967.18 396.60,967.87 397.70,967.20 C398.80,966.53 400.10,965.65 401.00,964.30 C401.90,962.95 402.32,961.75 403.10,959.10 C403.88,956.45 405.03,953.77 405.70,948.40 C406.37,943.03 406.60,933.05 407.10,926.90 C407.60,920.75 408.30,914.60 408.70,911.50 C409.10,908.40 409.23,908.30 409.50,908.30 C409.77,908.30 409.93,908.40 410.30,911.50 C410.67,914.60 411.25,920.75 411.70,926.90 C412.15,933.05 412.57,943.03 413.00,948.40 C413.43,953.77 413.72,955.97 414.30,959.10 C414.88,962.23 415.50,964.52 416.50,967.20 C417.50,969.88 418.88,973.47 420.30,975.20 C421.72,976.93 423.05,976.93 425.00,977.60 C426.95,978.27 425.00,978.70 432.00,979.20 C441.17,979.70 444.50,980.37 480.00,980.60 C515.50,980.83 617.50,980.60 645.00,980.60" fill="none" stroke="#000" stroke-width="1.3" stroke-linejoin="round"/>
<line x1="104.00" y1="981.88" x2="644.90" y2="981.88" stroke="#111111" stroke-width="1.4"/>
<path d="M104.00,1070.40 C127.50,1070.40 220.87,1070.60 245.00,1070.40 C248.80,1070.20 247.55,1069.20 248.80,1069.20 C250.05,1069.20 248.80,1070.20 252.50,1070.40 C266.03,1070.60 313.38,1070.48 330.00,1070.40 C346.62,1070.32 347.02,1070.25 352.20,1069.90 C357.38,1069.55 358.87,1069.18 361.10,1068.30 C363.33,1067.42 364.42,1065.45 365.60,1064.60 C366.78,1063.75 367.28,1062.95 368.20,1063.20 C369.12,1063.45 369.87,1065.35 371.10,1066.10 C372.33,1066.85 373.57,1067.82 375.60,1067.70 C377.63,1067.58 380.90,1066.40 383.30,1065.40 C385.70,1064.40 387.77,1063.43 390.00,1061.70 C392.23,1059.97 394.48,1057.97 396.70,1055.00 C398.92,1052.03 401.45,1046.87 403.30,1043.90 C405.15,1040.93 406.50,1038.50 407.80,1037.20 C409.10,1035.90 410.00,1035.73 411.10,1036.10 C412.20,1036.47 413.10,1037.92 414.40,1039.40 C415.70,1040.88 417.42,1043.13 418.90,1045.00 C420.38,1046.87 421.90,1049.30 423.30,1050.60 C424.70,1051.90 426.18,1053.00 427.30,1052.80 C428.42,1052.60 429.18,1054.03 430.00,1049.40 C430.82,1044.77 431.60,1032.77 432.20,1025.00 C432.80,1017.23 433.15,1007.43 433.60,1002.80 C434.05,998.17 434.47,997.20 434.90,997.20 C435.33,997.20 435.68,997.43 436.20,1002.80 C436.72,1008.17 437.30,1020.52 438.00,1029.40 C438.70,1038.28 439.33,1050.17 440.40,1056.10 C441.47,1062.03 442.43,1062.85 444.40,1065.00 C446.37,1067.15 446.27,1068.13 452.20,1069.00 C458.13,1069.87 467.03,1069.98 480.00,1070.20 C492.97,1070.42 521.07,1070.60 530.00,1070.30 C533.60,1070.00 532.43,1068.40 533.60,1068.40 C534.77,1068.40 533.60,1069.97 537.00,1070.30 C555.57,1070.63 627.00,1070.38 645.00,1070.40 L645.00,1070.80 L104.00,1070.80 Z" fill="#808080"/>
<path d="M104.00,1070.40 C127.50,1070.40 220.87,1070.60 245.00,1070.40 C248.80,1070.20 247.55,1069.20 248.80,1069.20 C250.05,1069.20 248.80,1070.20 252.50,1070.40 C266.03,1070.60 313.38,1070.48 330.00,1070.40 C346.62,1070.32 347.02,1070.25 352.20,1069.90 C357.38,1069.55 358.87,1069.18 361.10,1068.30 C363.33,1067.42 364.42,1065.45 365.60,1064.60 C366.78,1063.75 367.28,1062.95 368.20,1063.20 C369.12,1063.45 369.87,1065.35 371.10,1066.10 C372.33,1066.85 373.57,1067.82 375.60,1067.70 C377.63,1067.58 380.90,1066.40 383.30,1065.40 C385.70,1064.40 387.77,1063.43 390.00,1061.70 C392.23,1059.97 394.48,1057.97 396.70,1055.00 C398.92,1052.03 401.45,1046.87 403.30,1043.90 C405.15,1040.93 406.50,1038.50 407.80,1037.20 C409.10,1035.90 410.00,1035.73 411.10,1036.10 C412.20,1036.47 413.10,1037.92 414.40,1039.40 C415.70,1040.88 417.42,1043.13 418.90,1045.00 C420.38,1046.87 421.90,1049.30 423.30,1050.60 C424.70,1051.90 426.18,1053.00 427.30,1052.80 C428.42,1052.60 429.18,1054.03 430.00,1049.40 C430.82,1044.77 431.60,1032.77 432.20,1025.00 C432.80,1017.23 433.15,1007.43 433.60,1002.80 C434.05,998.17 434.47,997.20 434.90,997.20 C435.33,997.20 435.68,997.43 436.20,1002.80 C436.72,1008.17 437.30,1020.52 438.00,1029.40 C438.70,1038.28 439.33,1050.17 440.40,1056.10 C441.47,1062.03 442.43,1062.85 444.40,1065.00 C446.37,1067.15 446.27,1068.13 452.20,1069.00 C458.13,1069.87 467.03,1069.98 480.00,1070.20 C492.97,1070.42 521.07,1070.60 530.00,1070.30 C533.60,1070.00 532.43,1068.40 533.60,1068.40 C534.77,1068.40 533.60,1069.97 537.00,1070.30 C555.57,1070.63 627.00,1070.38 645.00,1070.40" fill="none" stroke="#000" stroke-width="1.3" stroke-linejoin="round"/>
<line x1="104.00" y1="1070.80" x2="644.90" y2="1070.80" stroke="#111111" stroke-width="1.4"/>
<path d="M104.00,1159.40 C131.08,1159.40 238.75,1159.67 266.50,1159.40 C270.50,1159.13 269.17,1157.80 270.50,1157.80 C271.83,1157.80 270.50,1159.13 274.50,1159.40 C287.75,1159.67 333.72,1159.58 350.00,1159.40 C366.28,1159.22 366.83,1158.85 372.20,1158.30 C377.57,1157.75 379.97,1157.20 382.20,1156.10 C384.43,1155.00 384.60,1153.92 385.60,1151.70 C386.60,1149.48 387.40,1144.58 388.20,1142.80 C389.00,1141.02 389.55,1140.27 390.40,1141.00 C391.25,1141.73 392.07,1145.60 393.30,1147.20 C394.53,1148.80 396.13,1150.78 397.80,1150.60 C399.47,1150.42 401.45,1148.33 403.30,1146.10 C405.15,1143.87 407.05,1140.90 408.90,1137.20 C410.75,1133.50 412.73,1128.15 414.40,1123.90 C416.07,1119.65 417.48,1114.22 418.90,1111.70 C420.32,1109.18 421.60,1108.62 422.90,1108.80 C424.20,1108.98 425.15,1109.92 426.70,1112.80 C428.25,1115.68 430.17,1121.67 432.20,1126.10 C434.23,1130.53 436.67,1136.13 438.90,1139.40 C441.13,1142.67 443.57,1144.40 445.60,1145.70 C447.63,1147.00 449.82,1147.87 451.10,1147.20 C452.38,1146.53 452.63,1146.33 453.30,1141.70 C453.97,1137.07 454.53,1127.92 455.10,1119.40 C455.67,1110.88 456.22,1096.15 456.70,1090.60 C457.18,1085.05 457.57,1085.73 458.00,1086.10 C458.43,1086.47 458.78,1086.50 459.30,1092.80 C459.82,1099.10 460.35,1114.65 461.10,1123.90 C461.85,1133.15 462.50,1142.93 463.80,1148.30 C465.10,1153.67 465.65,1154.32 468.90,1156.10 C472.15,1157.88 469.28,1158.48 483.30,1159.00 C497.32,1159.52 540.68,1159.57 553.00,1159.20 C557.20,1158.83 555.87,1156.80 557.20,1156.80 C558.53,1156.80 557.20,1158.77 561.00,1159.20 C575.63,1159.63 631.00,1159.37 645.00,1159.40 L645.00,1159.72 L104.00,1159.72 Z" fill="#808080"/>
<path d="M104.00,1159.40 C131.08,1159.40 238.75,1159.67 266.50,1159.40 C270.50,1159.13 269.17,1157.80 270.50,1157.80 C271.83,1157.80 270.50,1159.13 274.50,1159.40 C287.75,1159.67 333.72,1159.58 350.00,1159.40 C366.28,1159.22 366.83,1158.85 372.20,1158.30 C377.57,1157.75 379.97,1157.20 382.20,1156.10 C384.43,1155.00 384.60,1153.92 385.60,1151.70 C386.60,1149.48 387.40,1144.58 388.20,1142.80 C389.00,1141.02 389.55,1140.27 390.40,1141.00 C391.25,1141.73 392.07,1145.60 393.30,1147.20 C394.53,1148.80 396.13,1150.78 397.80,1150.60 C399.47,1150.42 401.45,1148.33 403.30,1146.10 C405.15,1143.87 407.05,1140.90 408.90,1137.20 C410.75,1133.50 412.73,1128.15 414.40,1123.90 C416.07,1119.65 417.48,1114.22 418.90,1111.70 C420.32,1109.18 421.60,1108.62 422.90,1108.80 C424.20,1108.98 425.15,1109.92 426.70,1112.80 C428.25,1115.68 430.17,1121.67 432.20,1126.10 C434.23,1130.53 436.67,1136.13 438.90,1139.40 C441.13,1142.67 443.57,1144.40 445.60,1145.70 C447.63,1147.00 449.82,1147.87 451.10,1147.20 C452.38,1146.53 452.63,1146.33 453.30,1141.70 C453.97,1137.07 454.53,1127.92 455.10,1119.40 C455.67,1110.88 456.22,1096.15 456.70,1090.60 C457.18,1085.05 457.57,1085.73 458.00,1086.10 C458.43,1086.47 458.78,1086.50 459.30,1092.80 C459.82,1099.10 460.35,1114.65 461.10,1123.90 C461.85,1133.15 462.50,1142.93 463.80,1148.30 C465.10,1153.67 465.65,1154.32 468.90,1156.10 C472.15,1157.88 469.28,1158.48 483.30,1159.00 C497.32,1159.52 540.68,1159.57 553.00,1159.20 C557.20,1158.83 555.87,1156.80 557.20,1156.80 C558.53,1156.80 557.20,1158.77 561.00,1159.20 C575.63,1159.63 631.00,1159.37 645.00,1159.40" fill="none" stroke="#000" stroke-width="1.3" stroke-linejoin="round"/>
<line x1="104.00" y1="1159.72" x2="644.90" y2="1159.72" stroke="#111111" stroke-width="1.4"/>
<path d="M104.00,1248.00 C130.00,1248.03 229.85,1248.33 260.00,1248.20 C284.90,1248.07 280.07,1248.15 284.90,1247.20 C289.00,1246.25 287.45,1242.60 289.00,1242.50 C290.55,1242.40 289.00,1245.80 294.20,1246.60 C303.20,1247.40 330.72,1247.38 343.00,1247.30 C355.28,1247.22 360.30,1246.90 367.90,1246.10 C375.50,1245.30 383.77,1243.58 388.60,1242.50 C393.43,1241.42 394.77,1241.13 396.90,1239.60 C399.03,1238.07 400.10,1236.52 401.40,1233.30 C402.70,1230.08 403.88,1225.73 404.70,1220.30 C405.52,1214.87 405.77,1207.22 406.30,1200.70 C406.83,1194.18 407.35,1185.27 407.90,1181.20 C408.45,1177.13 409.05,1176.30 409.60,1176.30 C410.15,1176.30 410.67,1177.93 411.20,1181.20 C411.73,1184.47 411.98,1191.28 412.80,1195.90 C413.62,1200.52 415.02,1207.55 416.10,1208.90 C417.18,1210.25 418.22,1206.72 419.30,1204.00 C420.38,1201.28 421.37,1196.27 422.60,1192.60 C423.83,1188.93 425.48,1184.23 426.70,1182.00 C427.92,1179.77 428.82,1179.07 429.90,1179.20 C430.98,1179.33 431.97,1180.30 433.20,1182.80 C434.43,1185.30 435.80,1189.85 437.30,1194.20 C438.80,1198.55 440.58,1204.28 442.20,1208.90 C443.82,1213.52 445.10,1218.10 447.00,1221.90 C448.90,1225.70 451.15,1229.12 453.60,1231.70 C456.05,1234.28 459.27,1236.03 461.70,1237.40 C464.13,1238.77 466.57,1240.03 468.20,1239.90 C469.83,1239.77 470.55,1240.42 471.50,1236.60 C472.45,1232.78 473.22,1225.70 473.90,1217.00 C474.58,1208.30 475.10,1191.45 475.60,1184.40 C476.10,1177.35 476.50,1174.70 476.90,1174.70 C477.30,1174.70 477.55,1177.88 478.00,1184.40 C478.45,1190.92 478.92,1205.65 479.60,1213.80 C480.28,1221.95 481.00,1228.42 482.10,1233.30 C483.20,1238.18 484.17,1240.92 486.20,1243.10 C488.23,1245.28 492.00,1245.77 494.30,1246.40 C496.60,1247.03 494.72,1246.72 500.00,1246.90 C505.28,1247.08 520.95,1247.88 526.00,1247.50 C530.30,1247.12 528.97,1244.60 530.30,1244.60 C531.63,1244.60 530.30,1247.02 534.00,1247.50 C540.95,1247.98 565.03,1248.07 572.00,1247.50 C575.80,1246.93 574.55,1244.10 575.80,1244.10 C577.05,1244.10 575.80,1246.85 579.50,1247.50 C591.03,1248.15 634.08,1247.92 645.00,1248.00 L645.00,1248.64 L104.00,1248.64 Z" fill="#808080"/>
<path d="M104.00,1248.00 C130.00,1248.03 229.85,1248.33 260.00,1248.20 C284.90,1248.07 280.07,1248.15 284.90,1247.20 C289.00,1246.25 287.45,1242.60 289.00,1242.50 C290.55,1242.40 289.00,1245.80 294.20,1246.60 C303.20,1247.40 330.72,1247.38 343.00,1247.30 C355.28,1247.22 360.30,1246.90 367.90,1246.10 C375.50,1245.30 383.77,1243.58 388.60,1242.50 C393.43,1241.42 394.77,1241.13 396.90,1239.60 C399.03,1238.07 400.10,1236.52 401.40,1233.30 C402.70,1230.08 403.88,1225.73 404.70,1220.30 C405.52,1214.87 405.77,1207.22 406.30,1200.70 C406.83,1194.18 407.35,1185.27 407.90,1181.20 C408.45,1177.13 409.05,1176.30 409.60,1176.30 C410.15,1176.30 410.67,1177.93 411.20,1181.20 C411.73,1184.47 411.98,1191.28 412.80,1195.90 C413.62,1200.52 415.02,1207.55 416.10,1208.90 C417.18,1210.25 418.22,1206.72 419.30,1204.00 C420.38,1201.28 421.37,1196.27 422.60,1192.60 C423.83,1188.93 425.48,1184.23 426.70,1182.00 C427.92,1179.77 428.82,1179.07 429.90,1179.20 C430.98,1179.33 431.97,1180.30 433.20,1182.80 C434.43,1185.30 435.80,1189.85 437.30,1194.20 C438.80,1198.55 440.58,1204.28 442.20,1208.90 C443.82,1213.52 445.10,1218.10 447.00,1221.90 C448.90,1225.70 451.15,1229.12 453.60,1231.70 C456.05,1234.28 459.27,1236.03 461.70,1237.40 C464.13,1238.77 466.57,1240.03 468.20,1239.90 C469.83,1239.77 470.55,1240.42 471.50,1236.60 C472.45,1232.78 473.22,1225.70 473.90,1217.00 C474.58,1208.30 475.10,1191.45 475.60,1184.40 C476.10,1177.35 476.50,1174.70 476.90,1174.70 C477.30,1174.70 477.55,1177.88 478.00,1184.40 C478.45,1190.92 478.92,1205.65 479.60,1213.80 C480.28,1221.95 481.00,1228.42 482.10,1233.30 C483.20,1238.18 484.17,1240.92 486.20,1243.10 C488.23,1245.28 492.00,1245.77 494.30,1246.40 C496.60,1247.03 494.72,1246.72 500.00,1246.90 C505.28,1247.08 520.95,1247.88 526.00,1247.50 C530.30,1247.12 528.97,1244.60 530.30,1244.60 C531.63,1244.60 530.30,1247.02 534.00,1247.50 C540.95,1247.98 565.03,1248.07 572.00,1247.50 C575.80,1246.93 574.55,1244.10 575.80,1244.10 C577.05,1244.10 575.80,1246.85 579.50,1247.50 C591.03,1248.15 634.08,1247.92 645.00,1248.00" fill="none" stroke="#000" stroke-width="1.3" stroke-linejoin="round"/>
<line x1="104.00" y1="1248.64" x2="644.90" y2="1248.64" stroke="#111111" stroke-width="1.4"/>
<path d="M104.00,1337.00 C135.00,1336.97 257.08,1336.87 290.00,1336.80 C301.50,1336.73 299.02,1337.48 301.50,1336.60 C303.98,1335.72 303.73,1331.55 304.90,1331.50 C306.07,1331.45 304.90,1335.47 308.50,1336.30 C314.35,1337.13 329.75,1336.50 340.00,1336.50 C350.25,1336.50 361.67,1336.38 370.00,1336.30 C378.33,1336.22 384.88,1336.45 390.00,1336.00 C395.12,1335.55 397.15,1334.60 400.70,1333.60 C404.25,1332.60 408.63,1331.48 411.30,1330.00 C413.97,1328.52 415.37,1327.37 416.70,1324.70 C418.03,1322.03 418.48,1319.05 419.30,1314.00 C420.12,1308.95 420.92,1301.22 421.60,1294.40 C422.28,1287.58 422.73,1278.13 423.40,1273.10 C424.07,1268.07 424.88,1264.78 425.60,1264.20 C426.32,1263.62 427.05,1266.03 427.70,1269.60 C428.35,1273.17 428.67,1280.57 429.50,1285.60 C430.33,1290.63 431.28,1295.95 432.70,1299.80 C434.12,1303.65 435.93,1305.60 438.00,1308.70 C440.07,1311.80 442.43,1315.45 445.10,1318.40 C447.77,1321.35 450.73,1324.17 454.00,1326.40 C457.27,1328.63 460.85,1330.47 464.70,1331.80 C468.55,1333.13 473.40,1334.10 477.10,1334.40 C480.80,1334.70 484.82,1335.22 486.90,1333.60 C488.98,1331.98 488.87,1328.57 489.60,1324.70 C490.33,1320.83 490.72,1313.67 491.30,1310.40 C491.88,1307.13 492.50,1304.80 493.10,1305.10 C493.70,1305.40 494.30,1308.65 494.90,1312.20 C495.50,1315.75 495.82,1322.70 496.70,1326.40 C497.58,1330.10 497.98,1332.77 500.20,1334.40 C502.42,1336.03 503.03,1335.85 510.00,1336.20 C516.97,1336.55 535.97,1336.80 542.00,1336.50 C546.20,1336.20 544.87,1334.40 546.20,1334.40 C547.53,1334.40 546.20,1336.13 550.00,1336.50 C556.97,1336.87 580.97,1336.87 588.00,1336.60 C592.20,1336.33 590.87,1334.90 592.20,1334.90 C593.53,1334.90 592.20,1336.28 596.00,1336.60 C604.80,1336.92 636.83,1336.77 645.00,1336.80 L645.00,1337.56 L104.00,1337.56 Z" fill="#808080"/>
<path d="M104.00,1337.00 C135.00,1336.97 257.08,1336.87 290.00,1336.80 C301.50,1336.73 299.02,1337.48 301.50,1336.60 C303.98,1335.72 303.73,1331.55 304.90,1331.50 C306.07,1331.45 304.90,1335.47 308.50,1336.30 C314.35,1337.13 329.75,1336.50 340.00,1336.50 C350.25,1336.50 361.67,1336.38 370.00,1336.30 C378.33,1336.22 384.88,1336.45 390.00,1336.00 C395.12,1335.55 397.15,1334.60 400.70,1333.60 C404.25,1332.60 408.63,1331.48 411.30,1330.00 C413.97,1328.52 415.37,1327.37 416.70,1324.70 C418.03,1322.03 418.48,1319.05 419.30,1314.00 C420.12,1308.95 420.92,1301.22 421.60,1294.40 C422.28,1287.58 422.73,1278.13 423.40,1273.10 C424.07,1268.07 424.88,1264.78 425.60,1264.20 C426.32,1263.62 427.05,1266.03 427.70,1269.60 C428.35,1273.17 428.67,1280.57 429.50,1285.60 C430.33,1290.63 431.28,1295.95 432.70,1299.80 C434.12,1303.65 435.93,1305.60 438.00,1308.70 C440.07,1311.80 442.43,1315.45 445.10,1318.40 C447.77,1321.35 450.73,1324.17 454.00,1326.40 C457.27,1328.63 460.85,1330.47 464.70,1331.80 C468.55,1333.13 473.40,1334.10 477.10,1334.40 C480.80,1334.70 484.82,1335.22 486.90,1333.60 C488.98,1331.98 488.87,1328.57 489.60,1324.70 C490.33,1320.83 490.72,1313.67 491.30,1310.40 C491.88,1307.13 492.50,1304.80 493.10,1305.10 C493.70,1305.40 494.30,1308.65 494.90,1312.20 C495.50,1315.75 495.82,1322.70 496.70,1326.40 C497.58,1330.10 497.98,1332.77 500.20,1334.40 C502.42,1336.03 503.03,1335.85 510.00,1336.20 C516.97,1336.55 535.97,1336.80 542.00,1336.50 C546.20,1336.20 544.87,1334.40 546.20,1334.40 C547.53,1334.40 546.20,1336.13 550.00,1336.50 C556.97,1336.87 580.97,1336.87 588.00,1336.60 C592.20,1336.33 590.87,1334.90 592.20,1334.90 C593.53,1334.90 592.20,1336.28 596.00,1336.60 C604.80,1336.92 636.83,1336.77 645.00,1336.80" fill="none" stroke="#000" stroke-width="1.3" stroke-linejoin="round"/>
<line x1="104.00" y1="1337.56" x2="644.90" y2="1337.56" stroke="#111111" stroke-width="1.4"/>
<path d="M104.00,1425.20 C136.67,1425.17 262.30,1425.10 300.00,1425.00 C330.20,1424.90 324.78,1425.77 330.20,1424.60 C332.50,1423.43 331.85,1421.08 332.50,1418.00 C333.15,1414.92 333.55,1406.10 334.10,1406.10 C334.65,1406.10 335.12,1414.95 335.80,1418.00 C336.48,1421.05 337.17,1423.37 338.20,1424.40 C339.23,1425.43 340.67,1424.28 342.00,1424.20 C343.33,1424.12 344.53,1423.83 346.20,1423.90 C347.87,1423.97 346.37,1424.45 352.00,1424.60 C357.63,1424.75 372.00,1424.77 380.00,1424.80 C388.00,1424.83 395.55,1424.87 400.00,1424.80 C404.45,1424.73 404.77,1424.67 406.70,1424.40 C408.63,1424.13 409.83,1423.63 411.60,1423.20 C413.37,1422.77 416.02,1422.33 417.30,1421.80 C418.58,1421.27 418.17,1420.95 419.30,1420.00 C420.43,1419.05 422.67,1417.55 424.10,1416.10 C425.53,1414.65 426.78,1412.42 427.90,1411.30 C429.02,1410.18 429.67,1410.68 430.80,1409.40 C431.93,1408.12 433.08,1405.70 434.70,1403.60 C436.32,1401.50 438.90,1398.88 440.50,1396.80 C442.10,1394.72 443.18,1393.33 444.30,1391.10 C445.42,1388.87 446.40,1386.45 447.20,1383.40 C448.00,1380.35 448.45,1376.18 449.10,1372.80 C449.75,1369.42 450.55,1366.15 451.10,1363.10 C451.65,1360.05 451.92,1356.17 452.40,1354.50 C452.88,1352.83 453.42,1352.63 454.00,1353.10 C454.58,1353.57 455.33,1353.70 455.90,1357.30 C456.47,1360.90 456.92,1368.58 457.40,1374.70 C457.88,1380.82 458.25,1388.22 458.80,1394.00 C459.35,1399.78 459.75,1405.55 460.70,1409.40 C461.65,1413.25 462.42,1415.18 464.50,1417.10 C466.58,1419.02 469.50,1419.88 473.20,1420.90 C476.90,1421.92 480.27,1422.55 486.70,1423.20 C493.13,1423.85 506.98,1424.85 511.80,1424.80 C515.60,1424.75 514.48,1425.03 515.60,1422.90 C516.72,1420.77 517.43,1415.87 518.50,1412.00 C519.57,1408.13 520.95,1399.82 522.00,1399.70 C523.05,1399.58 523.87,1407.43 524.80,1411.30 C525.73,1415.17 526.65,1420.65 527.60,1422.90 C528.55,1425.15 527.60,1424.45 530.50,1424.80 C537.90,1425.15 564.48,1425.62 572.00,1425.00 C575.60,1424.38 574.43,1421.10 575.60,1421.10 C576.77,1421.10 575.60,1424.32 579.00,1425.00 C585.90,1425.68 609.98,1425.33 617.00,1425.20 C621.10,1425.07 619.77,1424.20 621.10,1424.20 C622.43,1424.20 621.10,1425.03 625.00,1425.20 C628.98,1425.37 641.67,1425.20 645.00,1425.20 L645.00,1426.48 L104.00,1426.48 Z" fill="#808080"/>
<path d="M104.00,1425.20 C136.67,1425.17 262.30,1425.10 300.00,1425.00 C330.20,1424.90 324.78,1425.77 330.20,1424.60 C332.50,1423.43 331.85,1421.08 332.50,1418.00 C333.15,1414.92 333.55,1406.10 334.10,1406.10 C334.65,1406.10 335.12,1414.95 335.80,1418.00 C336.48,1421.05 337.17,1423.37 338.20,1424.40 C339.23,1425.43 340.67,1424.28 342.00,1424.20 C343.33,1424.12 344.53,1423.83 346.20,1423.90 C347.87,1423.97 346.37,1424.45 352.00,1424.60 C357.63,1424.75 372.00,1424.77 380.00,1424.80 C388.00,1424.83 395.55,1424.87 400.00,1424.80 C404.45,1424.73 404.77,1424.67 406.70,1424.40 C408.63,1424.13 409.83,1423.63 411.60,1423.20 C413.37,1422.77 416.02,1422.33 417.30,1421.80 C418.58,1421.27 418.17,1420.95 419.30,1420.00 C420.43,1419.05 422.67,1417.55 424.10,1416.10 C425.53,1414.65 426.78,1412.42 427.90,1411.30 C429.02,1410.18 429.67,1410.68 430.80,1409.40 C431.93,1408.12 433.08,1405.70 434.70,1403.60 C436.32,1401.50 438.90,1398.88 440.50,1396.80 C442.10,1394.72 443.18,1393.33 444.30,1391.10 C445.42,1388.87 446.40,1386.45 447.20,1383.40 C448.00,1380.35 448.45,1376.18 449.10,1372.80 C449.75,1369.42 450.55,1366.15 451.10,1363.10 C451.65,1360.05 451.92,1356.17 452.40,1354.50 C452.88,1352.83 453.42,1352.63 454.00,1353.10 C454.58,1353.57 455.33,1353.70 455.90,1357.30 C456.47,1360.90 456.92,1368.58 457.40,1374.70 C457.88,1380.82 458.25,1388.22 458.80,1394.00 C459.35,1399.78 459.75,1405.55 460.70,1409.40 C461.65,1413.25 462.42,1415.18 464.50,1417.10 C466.58,1419.02 469.50,1419.88 473.20,1420.90 C476.90,1421.92 480.27,1422.55 486.70,1423.20 C493.13,1423.85 506.98,1424.85 511.80,1424.80 C515.60,1424.75 514.48,1425.03 515.60,1422.90 C516.72,1420.77 517.43,1415.87 518.50,1412.00 C519.57,1408.13 520.95,1399.82 522.00,1399.70 C523.05,1399.58 523.87,1407.43 524.80,1411.30 C525.73,1415.17 526.65,1420.65 527.60,1422.90 C528.55,1425.15 527.60,1424.45 530.50,1424.80 C537.90,1425.15 564.48,1425.62 572.00,1425.00 C575.60,1424.38 574.43,1421.10 575.60,1421.10 C576.77,1421.10 575.60,1424.32 579.00,1425.00 C585.90,1425.68 609.98,1425.33 617.00,1425.20 C621.10,1425.07 619.77,1424.20 621.10,1424.20 C622.43,1424.20 621.10,1425.03 625.00,1425.20 C628.98,1425.37 641.67,1425.20 645.00,1425.20" fill="none" stroke="#000" stroke-width="1.3" stroke-linejoin="round"/>
<line x1="104.00" y1="1426.48" x2="644.90" y2="1426.48" stroke="#111111" stroke-width="1.4"/>
<rect x="104.0" y="500.9" width="540.90" height="999.60" fill="none" stroke="#111111" stroke-width="1.4"/>
<line x1="140.06" y1="500.90" x2="140.06" y2="505.70" stroke="#111111" stroke-width="1.3"/>
<line x1="140.06" y1="1500.50" x2="140.06" y2="1495.70" stroke="#111111" stroke-width="1.3"/>
<line x1="176.12" y1="500.90" x2="176.12" y2="505.70" stroke="#111111" stroke-width="1.3"/>
<line x1="176.12" y1="1500.50" x2="176.12" y2="1495.70" stroke="#111111" stroke-width="1.3"/>
<line x1="212.18" y1="500.90" x2="212.18" y2="505.70" stroke="#111111" stroke-width="1.3"/>
<line x1="212.18" y1="1500.50" x2="212.18" y2="1495.70" stroke="#111111" stroke-width="1.3"/>
<line x1="248.24" y1="500.90" x2="248.24" y2="505.70" stroke="#111111" stroke-width="1.3"/>
<line x1="248.24" y1="1500.50" x2="248.24" y2="1495.70" stroke="#111111" stroke-width="1.3"/>
<line x1="284.30" y1="500.90" x2="284.30" y2="510.40" stroke="#111111" stroke-width="1.3"/>
<line x1="284.30" y1="1500.50" x2="284.30" y2="1491.00" stroke="#111111" stroke-width="1.3"/>
<line x1="320.36" y1="500.90" x2="320.36" y2="505.70" stroke="#111111" stroke-width="1.3"/>
<line x1="320.36" y1="1500.50" x2="320.36" y2="1495.70" stroke="#111111" stroke-width="1.3"/>
<line x1="356.42" y1="500.90" x2="356.42" y2="505.70" stroke="#111111" stroke-width="1.3"/>
<line x1="356.42" y1="1500.50" x2="356.42" y2="1495.70" stroke="#111111" stroke-width="1.3"/>
<line x1="392.48" y1="500.90" x2="392.48" y2="505.70" stroke="#111111" stroke-width="1.3"/>
<line x1="392.48" y1="1500.50" x2="392.48" y2="1495.70" stroke="#111111" stroke-width="1.3"/>
<line x1="428.54" y1="500.90" x2="428.54" y2="505.70" stroke="#111111" stroke-width="1.3"/>
<line x1="428.54" y1="1500.50" x2="428.54" y2="1495.70" stroke="#111111" stroke-width="1.3"/>
<line x1="464.60" y1="500.90" x2="464.60" y2="510.40" stroke="#111111" stroke-width="1.3"/>
<line x1="464.60" y1="1500.50" x2="464.60" y2="1491.00" stroke="#111111" stroke-width="1.3"/>
<line x1="500.66" y1="500.90" x2="500.66" y2="505.70" stroke="#111111" stroke-width="1.3"/>
<line x1="500.66" y1="1500.50" x2="500.66" y2="1495.70" stroke="#111111" stroke-width="1.3"/>
<line x1="536.72" y1="500.90" x2="536.72" y2="505.70" stroke="#111111" stroke-width="1.3"/>
<line x1="536.72" y1="1500.50" x2="536.72" y2="1495.70" stroke="#111111" stroke-width="1.3"/>
<line x1="572.78" y1="500.90" x2="572.78" y2="505.70" stroke="#111111" stroke-width="1.3"/>
<line x1="572.78" y1="1500.50" x2="572.78" y2="1495.70" stroke="#111111" stroke-width="1.3"/>
<line x1="608.84" y1="500.90" x2="608.84" y2="505.70" stroke="#111111" stroke-width="1.3"/>
<line x1="608.84" y1="1500.50" x2="608.84" y2="1495.70" stroke="#111111" stroke-width="1.3"/>
<line x1="104.00" y1="538.00" x2="113.50" y2="538.00" stroke="#111111" stroke-width="1.3"/>
<line x1="644.90" y1="538.00" x2="635.40" y2="538.00" stroke="#111111" stroke-width="1.3"/>
<line x1="104.00" y1="685.60" x2="113.50" y2="685.60" stroke="#111111" stroke-width="1.3"/>
<line x1="644.90" y1="685.60" x2="635.40" y2="685.60" stroke="#111111" stroke-width="1.3"/>
<line x1="104.00" y1="834.00" x2="113.50" y2="834.00" stroke="#111111" stroke-width="1.3"/>
<line x1="644.90" y1="834.00" x2="635.40" y2="834.00" stroke="#111111" stroke-width="1.3"/>
<line x1="104.00" y1="1130.40" x2="113.50" y2="1130.40" stroke="#111111" stroke-width="1.3"/>
<line x1="644.90" y1="1130.40" x2="635.40" y2="1130.40" stroke="#111111" stroke-width="1.3"/>
<line x1="104.00" y1="1278.60" x2="113.50" y2="1278.60" stroke="#111111" stroke-width="1.3"/>
<line x1="644.90" y1="1278.60" x2="635.40" y2="1278.60" stroke="#111111" stroke-width="1.3"/>
<text transform="translate(114.24,607.82) scale(0.9980,1)" font-size="28.53" fill="#111111" font-weight="normal">70</text>
<text transform="translate(157.23,608.10) scale(0.8608,1)" font-size="29.36" fill="#111111" font-weight="normal">K</text>
<text transform="translate(114.25,696.69) scale(1.0004,1)" font-size="28.53" fill="#111111" font-weight="normal">65</text>
<text transform="translate(157.23,696.97) scale(0.8608,1)" font-size="29.36" fill="#111111" font-weight="normal">K</text>
<text transform="translate(114.25,785.56) scale(0.9975,1)" font-size="28.53" fill="#111111" font-weight="normal">60</text>
<text transform="translate(157.23,785.84) scale(0.8608,1)" font-size="29.36" fill="#111111" font-weight="normal">K</text>
<text transform="translate(114.57,874.43) scale(0.9756,1)" font-size="28.95" fill="#111111" font-weight="normal">55</text>
<text transform="translate(157.23,874.71) scale(0.8608,1)" font-size="29.36" fill="#111111" font-weight="normal">K</text>
<text transform="translate(114.57,963.30) scale(0.9872,1)" font-size="28.53" fill="#111111" font-weight="normal">50</text>
<text transform="translate(157.23,963.58) scale(0.8608,1)" font-size="29.36" fill="#111111" font-weight="normal">K</text>
<text transform="translate(115.06,1052.17) scale(0.9597,1)" font-size="28.95" fill="#111111" font-weight="normal">45</text>
<text transform="translate(157.23,1052.45) scale(0.8608,1)" font-size="29.36" fill="#111111" font-weight="normal">K</text>
<text transform="translate(115.06,1141.04) scale(0.9711,1)" font-size="28.53" fill="#111111" font-weight="normal">40</text>
<text transform="translate(157.23,1141.32) scale(0.8608,1)" font-size="29.36" fill="#111111" font-weight="normal">K</text>
<text transform="translate(114.63,1229.91) scale(0.9881,1)" font-size="28.53" fill="#111111" font-weight="normal">35</text>
<text transform="translate(157.23,1230.19) scale(0.8608,1)" font-size="29.36" fill="#111111" font-weight="normal">K</text>
<text transform="translate(114.63,1318.78) scale(0.9853,1)" font-size="28.53" fill="#111111" font-weight="normal">30</text>
<text transform="translate(157.23,1319.06) scale(0.8608,1)" font-size="29.36" fill="#111111" font-weight="normal">K</text>
<text transform="translate(115.41,1407.65) scale(0.9597,1)" font-size="28.53" fill="#111111" font-weight="normal">10</text>
<text transform="translate(157.23,1407.93) scale(0.8608,1)" font-size="29.36" fill="#111111" font-weight="normal">K</text>
<text transform="translate(5.84,546.84) scale(1.0092,1)" font-size="36.36" fill="#111111" font-weight="normal">b</text>
<text transform="translate(73.10,1099.04) rotate(-90) scale(1.0226,1)" font-size="30.09" fill="#111111">Intensity (linear scale, a.u.)</text>
<text transform="translate(66.42,1538.10) scale(0.6286,1)" font-size="28.78" fill="#111111" font-weight="normal">1</text>
<text transform="translate(79.34,1538.10) scale(1.2408,1)" font-size="28.78" fill="#111111" font-weight="normal">.</text>
<text transform="translate(87.99,1538.10) scale(0.9171,1)" font-size="28.78" fill="#111111" font-weight="normal">4</text>
<text transform="translate(105.28,1538.10) scale(0.5561,1)" font-size="28.78" fill="#111111" font-weight="normal">1</text>
<text transform="translate(119.36,1538.10) scale(0.9014,1)" font-size="28.78" fill="#111111" font-weight="normal">5</text>
<text transform="translate(256.05,1538.10) scale(0.5722,1)" font-size="28.78" fill="#111111" font-weight="normal">1</text>
<text transform="translate(268.84,1538.10) scale(1.2043,1)" font-size="28.78" fill="#111111" font-weight="normal">.</text>
<text transform="translate(276.67,1538.10) scale(0.9516,1)" font-size="28.78" fill="#111111" font-weight="normal">4</text>
<text transform="translate(292.88,1538.10) scale(0.9153,1)" font-size="28.78" fill="#111111" font-weight="normal">2</text>
<text transform="translate(427.69,1538.10) scale(0.5964,1)" font-size="28.78" fill="#111111" font-weight="normal">1</text>
<text transform="translate(441.25,1538.10) scale(1.3138,1)" font-size="28.78" fill="#111111" font-weight="normal">.</text>
<text transform="translate(450.94,1538.10) scale(0.8413,1)" font-size="28.78" fill="#111111" font-weight="normal">4</text>
<text transform="translate(466.29,1538.10) scale(1.0449,1)" font-size="28.78" fill="#111111" font-weight="normal">2</text>
<text transform="translate(485.75,1538.10) scale(0.9088,1)" font-size="28.78" fill="#111111" font-weight="normal">5</text>
<text transform="translate(616.93,1538.10) scale(0.5803,1)" font-size="28.78" fill="#111111" font-weight="normal">1</text>
<text transform="translate(629.96,1538.10) scale(1.3867,1)" font-size="28.78" fill="#111111" font-weight="normal">.</text>
<text transform="translate(640.14,1538.10) scale(0.9998,1)" font-size="28.78" fill="#111111" font-weight="normal">4</text>
<text transform="translate(658.14,1538.10) scale(0.8794,1)" font-size="28.78" fill="#111111" font-weight="normal">3</text>
<text transform="translate(291.52,1574.70) scale(0.9256,1)" font-size="30.09" fill="#111111" font-weight="normal">Energy</text>
<text transform="translate(387.43,1574.70) scale(0.8399,1)" font-size="30.09" fill="#111111" font-weight="normal">(</text>
<text transform="translate(407.70,1574.70) scale(1.0188,1)" font-size="30.09" fill="#111111" font-weight="normal">eV)</text>
<text transform="translate(252.10,594.06) scale(0.8856,1)" font-size="30.12" fill="#0a0af0" font-weight="bold" stroke="#0a0af0" stroke-width="1.08" stroke-linejoin="miter">X</text>
<text transform="translate(272.50,604.55) scale(0.8824,1)" font-size="25.01" fill="#0a0af0" font-weight="bold" stroke="#0a0af0" stroke-width="0.89" stroke-linejoin="miter">A</text>
<text transform="translate(317.22,559.94) scale(1.0291,1)" font-size="23.93" fill="#ee1111" font-weight="bold" stroke="#ee1111" stroke-width="0.85" stroke-linejoin="miter">CM</text>
<text transform="translate(383.31,547.16) scale(0.8694,1)" font-size="29.98" fill="#009245" font-weight="bold" stroke="#009245" stroke-width="1.07" stroke-linejoin="miter">X</text>
<text transform="translate(405.27,558.15) scale(0.8314,1)" font-size="19.34" fill="#009245" font-weight="bold" stroke="#009245" stroke-width="0.69" stroke-linejoin="miter">B</text>
<text transform="translate(270.33,668.94) scale(0.8365,1)" font-size="31.09" fill="#0a0af0" font-weight="bold" stroke="#0a0af0" stroke-width="1.11" stroke-linejoin="miter">X</text>
<text transform="translate(290.50,678.86) scale(0.8861,1)" font-size="24.59" fill="#0a0af0" font-weight="bold" stroke="#0a0af0" stroke-width="0.88" stroke-linejoin="miter">A</text>
<text transform="translate(323.23,649.33) scale(1.0059,1)" font-size="24.20" fill="#ee1111" font-weight="bold" stroke="#ee1111" stroke-width="0.86" stroke-linejoin="miter">CM</text>
<text transform="translate(409.62,676.75) scale(0.8445,1)" font-size="30.81" fill="#009245" font-weight="bold" stroke="#009245" stroke-width="1.10" stroke-linejoin="miter">X</text>
<text transform="translate(431.54,687.55) scale(0.8440,1)" font-size="19.62" fill="#009245" font-weight="bold" stroke="#009245" stroke-width="0.70" stroke-linejoin="miter">B</text>
<text transform="translate(305.01,747.36) scale(0.8720,1)" font-size="30.40" fill="#0a0af0" font-weight="bold" stroke="#0a0af0" stroke-width="1.09" stroke-linejoin="miter">X</text>
<text transform="translate(325.09,757.66) scale(0.9043,1)" font-size="24.59" fill="#0a0af0" font-weight="bold" stroke="#0a0af0" stroke-width="0.88" stroke-linejoin="miter">A</text>
<text transform="translate(363.54,747.32) scale(0.9918,1)" font-size="24.47" fill="#ee1111" font-weight="bold" stroke="#ee1111" stroke-width="0.87" stroke-linejoin="miter">CM</text>
<text transform="translate(432.31,781.25) scale(0.8678,1)" font-size="30.54" fill="#009245" font-weight="bold" stroke="#009245" stroke-width="1.09" stroke-linejoin="miter">X</text>
<text transform="translate(454.27,791.65) scale(0.8314,1)" font-size="19.34" fill="#009245" font-weight="bold" stroke="#009245" stroke-width="0.69" stroke-linejoin="miter">B</text>
<text transform="translate(339.52,833.25) scale(0.8695,1)" font-size="30.81" fill="#0a0af0" font-weight="bold" stroke="#0a0af0" stroke-width="1.10" stroke-linejoin="miter">X</text>
<text transform="translate(359.88,843.26) scale(0.9158,1)" font-size="24.46" fill="#0a0af0" font-weight="bold" stroke="#0a0af0" stroke-width="0.87" stroke-linejoin="miter">A</text>
<text transform="translate(399.23,869.93) scale(1.0059,1)" font-size="24.20" fill="#ee1111" font-weight="bold" stroke="#ee1111" stroke-width="0.86" stroke-linejoin="miter">CM</text>
<text transform="translate(465.11,871.36) scale(0.8669,1)" font-size="30.40" fill="#009245" font-weight="bold" stroke="#009245" stroke-width="1.09" stroke-linejoin="miter">X</text>
<text transform="translate(487.18,881.96) scale(0.8357,1)" font-size="19.07" fill="#009245" font-weight="bold" stroke="#009245" stroke-width="0.68" stroke-linejoin="miter">B</text>
<text transform="translate(359.04,959.44) scale(1.0060,1)" font-size="24.07" fill="#ee1111" font-weight="bold" stroke="#ee1111" stroke-width="0.86" stroke-linejoin="miter">CM</text>
<text transform="translate(421.01,925.25) scale(0.8678,1)" font-size="30.54" fill="#0a0af0" font-weight="bold" stroke="#0a0af0" stroke-width="1.09" stroke-linejoin="miter">X</text>
<text transform="translate(441.18,935.56) scale(0.9164,1)" font-size="24.59" fill="#0a0af0" font-weight="bold" stroke="#0a0af0" stroke-width="0.88" stroke-linejoin="miter">A</text>
<text transform="translate(344.82,1045.15) scale(0.8654,1)" font-size="30.95" fill="#009245" font-weight="bold" stroke="#009245" stroke-width="1.11" stroke-linejoin="miter">X</text>
<rect x="365.00" y="1026.90" width="8.30" height="2.80" fill="#009245"/>
<text transform="translate(366.96,1055.65) scale(0.8399,1)" font-size="19.34" fill="#009245" font-weight="bold" stroke="#009245" stroke-width="0.69" stroke-linejoin="miter">B</text>
<text transform="translate(385.04,1026.43) scale(1.0002,1)" font-size="24.20" fill="#ee1111" font-weight="bold" stroke="#ee1111" stroke-width="0.86" stroke-linejoin="miter">CM</text>
<text transform="translate(446.61,1015.46) scale(0.8770,1)" font-size="30.40" fill="#0a0af0" font-weight="bold" stroke="#0a0af0" stroke-width="1.09" stroke-linejoin="miter">X</text>
<text transform="translate(467.10,1026.05) scale(0.8832,1)" font-size="25.15" fill="#0a0af0" font-weight="bold" stroke="#0a0af0" stroke-width="0.90" stroke-linejoin="miter">A</text>
<text transform="translate(519.32,1054.15) scale(0.8405,1)" font-size="30.95" fill="#009245" font-weight="bold" stroke="#009245" stroke-width="1.11" stroke-linejoin="miter">X</text>
<text transform="translate(541.16,1064.65) scale(0.8399,1)" font-size="19.34" fill="#009245" font-weight="bold" stroke="#009245" stroke-width="0.69" stroke-linejoin="miter">B</text>
<text transform="translate(361.61,1121.36) scale(0.8813,1)" font-size="30.26" fill="#009245" font-weight="bold" stroke="#009245" stroke-width="1.08" stroke-linejoin="miter">X</text>
<rect x="381.70" y="1103.30" width="8.50" height="2.80" fill="#009245"/>
<text transform="translate(383.44,1131.95) scale(0.8568,1)" font-size="19.34" fill="#009245" font-weight="bold" stroke="#009245" stroke-width="0.69" stroke-linejoin="miter">B</text>
<text transform="translate(399.24,1102.02) scale(0.9835,1)" font-size="24.74" fill="#ee1111" font-weight="bold" stroke="#ee1111" stroke-width="0.88" stroke-linejoin="miter">CM</text>
<text transform="translate(468.12,1105.15) scale(0.8586,1)" font-size="30.67" fill="#0a0af0" font-weight="bold" stroke="#0a0af0" stroke-width="1.10" stroke-linejoin="miter">X</text>
<text transform="translate(488.09,1115.56) scale(0.9043,1)" font-size="24.59" fill="#0a0af0" font-weight="bold" stroke="#0a0af0" stroke-width="0.88" stroke-linejoin="miter">A</text>
<text transform="translate(545.01,1143.46) scale(0.8720,1)" font-size="30.40" fill="#009245" font-weight="bold" stroke="#009245" stroke-width="1.09" stroke-linejoin="miter">X</text>
<text transform="translate(566.94,1154.37) scale(0.8801,1)" font-size="18.51" fill="#009245" font-weight="bold" stroke="#009245" stroke-width="0.66" stroke-linejoin="miter">B</text>
<text transform="translate(362.01,1196.25) scale(0.8678,1)" font-size="30.54" fill="#009245" font-weight="bold" stroke="#009245" stroke-width="1.09" stroke-linejoin="miter">X</text>
<rect x="382.00" y="1177.90" width="8.30" height="2.80" fill="#009245"/>
<text transform="translate(383.75,1206.66) scale(0.8596,1)" font-size="18.93" fill="#009245" font-weight="bold" stroke="#009245" stroke-width="0.68" stroke-linejoin="miter">B</text>
<text transform="translate(433.74,1183.23) scale(0.9974,1)" font-size="24.20" fill="#ee1111" font-weight="bold" stroke="#ee1111" stroke-width="0.86" stroke-linejoin="miter">CM</text>
<text transform="translate(485.82,1188.65) scale(0.8636,1)" font-size="30.67" fill="#0a0af0" font-weight="bold" stroke="#0a0af0" stroke-width="1.10" stroke-linejoin="miter">X</text>
<text transform="translate(506.10,1199.25) scale(0.8832,1)" font-size="25.15" fill="#0a0af0" font-weight="bold" stroke="#0a0af0" stroke-width="0.90" stroke-linejoin="miter">A</text>
<text transform="translate(268.61,1225.25) scale(0.8728,1)" font-size="30.54" fill="#0a0af0" font-weight="bold" stroke="#0a0af0" stroke-width="1.09" stroke-linejoin="miter">X</text>
<rect x="288.80" y="1206.70" width="8.50" height="3.00" fill="#0a0af0"/>
<text transform="translate(289.08,1235.36) scale(0.9164,1)" font-size="24.59" fill="#0a0af0" font-weight="bold" stroke="#0a0af0" stroke-width="0.88" stroke-linejoin="miter">A</text>
<text transform="translate(500.73,1233.55) scale(0.9641,1)" font-size="30.52" fill="#0a0af0" font-weight="bold" stroke="#0a0af0" stroke-width="1.09" stroke-linejoin="miter">2X</text>
<text transform="translate(539.01,1243.77) scale(0.8652,1)" font-size="24.18" fill="#0a0af0" font-weight="bold" stroke="#0a0af0" stroke-width="0.86" stroke-linejoin="miter">A</text>
<text transform="translate(567.11,1231.46) scale(0.8669,1)" font-size="30.40" fill="#009245" font-weight="bold" stroke="#009245" stroke-width="1.09" stroke-linejoin="miter">X</text>
<text transform="translate(589.15,1242.36) scale(0.8529,1)" font-size="19.07" fill="#009245" font-weight="bold" stroke="#009245" stroke-width="0.68" stroke-linejoin="miter">B</text>
<text transform="translate(381.02,1283.95) scale(0.8636,1)" font-size="30.67" fill="#009245" font-weight="bold" stroke="#009245" stroke-width="1.10" stroke-linejoin="miter">X</text>
<rect x="400.80" y="1265.70" width="8.50" height="2.80" fill="#009245"/>
<text transform="translate(402.54,1294.65) scale(0.8568,1)" font-size="19.34" fill="#009245" font-weight="bold" stroke="#009245" stroke-width="0.69" stroke-linejoin="miter">B</text>
<text transform="translate(433.75,1298.12) scale(0.9834,1)" font-size="24.61" fill="#ee1111" font-weight="bold" stroke="#ee1111" stroke-width="0.88" stroke-linejoin="miter">CM</text>
<text transform="translate(476.81,1289.25) scale(0.8779,1)" font-size="30.54" fill="#0a0af0" font-weight="bold" stroke="#0a0af0" stroke-width="1.09" stroke-linejoin="miter">X</text>
<text transform="translate(497.09,1299.39) scale(0.9412,1)" font-size="21.74" fill="#0a0af0" font-weight="bold" stroke="#0a0af0" stroke-width="0.79" stroke-linejoin="miter">a</text>
<text transform="translate(284.81,1313.25) scale(0.8678,1)" font-size="30.54" fill="#0a0af0" font-weight="bold" stroke="#0a0af0" stroke-width="1.09" stroke-linejoin="miter">X</text>
<rect x="305.00" y="1294.70" width="8.30" height="3.00" fill="#0a0af0"/>
<text transform="translate(305.07,1323.37) scale(0.9274,1)" font-size="24.32" fill="#0a0af0" font-weight="bold" stroke="#0a0af0" stroke-width="0.87" stroke-linejoin="miter">A</text>
<text transform="translate(519.41,1321.37) scale(0.9923,1)" font-size="29.43" fill="#0a0af0" font-weight="bold" stroke="#0a0af0" stroke-width="1.05" stroke-linejoin="miter">2X</text>
<text transform="translate(557.62,1331.27) scale(0.8853,1)" font-size="22.43" fill="#0a0af0" font-weight="bold" stroke="#0a0af0" stroke-width="0.81" stroke-linejoin="miter">a</text>
<text transform="translate(586.11,1319.25) scale(0.8627,1)" font-size="30.54" fill="#009245" font-weight="bold" stroke="#009245" stroke-width="1.09" stroke-linejoin="miter">X</text>
<text transform="translate(607.95,1329.96) scale(0.8663,1)" font-size="18.79" fill="#009245" font-weight="bold" stroke="#009245" stroke-width="0.67" stroke-linejoin="miter">B</text>
<text transform="translate(318.01,1392.76) scale(0.8720,1)" font-size="30.40" fill="#0a0af0" font-weight="bold" stroke="#0a0af0" stroke-width="1.09" stroke-linejoin="miter">X</text>
<rect x="338.00" y="1374.70" width="8.50" height="3.00" fill="#0a0af0"/>
<text transform="translate(338.18,1403.36) scale(0.9056,1)" font-size="24.87" fill="#0a0af0" font-weight="bold" stroke="#0a0af0" stroke-width="0.89" stroke-linejoin="miter">A</text>
<text transform="translate(394.64,1397.63) scale(0.9946,1)" font-size="24.34" fill="#ee1111" font-weight="bold" stroke="#ee1111" stroke-width="0.87" stroke-linejoin="miter">CM</text>
<text transform="translate(462.62,1372.95) scale(0.8486,1)" font-size="30.67" fill="#009245" font-weight="bold" stroke="#009245" stroke-width="1.10" stroke-linejoin="miter">X</text>
<rect x="482.50" y="1354.30" width="8.50" height="3.20" fill="#009245"/>
<text transform="translate(484.44,1383.66) scale(0.8615,1)" font-size="19.07" fill="#009245" font-weight="bold" stroke="#009245" stroke-width="0.68" stroke-linejoin="miter">B</text>
<text transform="translate(510.02,1387.15) scale(0.8636,1)" font-size="30.67" fill="#0a0af0" font-weight="bold" stroke="#0a0af0" stroke-width="1.10" stroke-linejoin="miter">X</text>
<text transform="translate(530.09,1397.26) scale(0.8936,1)" font-size="24.87" fill="#0a0af0" font-weight="bold" stroke="#0a0af0" stroke-width="0.89" stroke-linejoin="miter">A</text>
<text transform="translate(552.41,1410.36) scale(0.9804,1)" font-size="30.11" fill="#0a0af0" font-weight="bold" stroke="#0a0af0" stroke-width="1.08" stroke-linejoin="miter">2X</text>
<text transform="translate(591.02,1420.46) scale(0.8447,1)" font-size="24.73" fill="#0a0af0" font-weight="bold" stroke="#0a0af0" stroke-width="0.88" stroke-linejoin="miter">A</text>
</svg>
</body></html>
